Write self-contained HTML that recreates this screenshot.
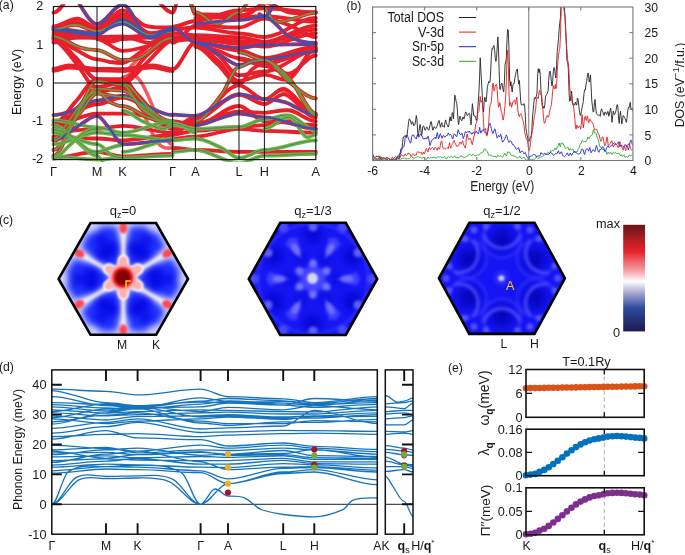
<!DOCTYPE html>
<html><head><meta charset="utf-8"><style>
html,body{margin:0;padding:0;background:#fff;}
svg{display:block;will-change:transform;}
text{font-family:"Liberation Sans",sans-serif;fill:#1a1a1a;}
</style></head><body>
<svg width="685" height="555" viewBox="0 0 685 555">
<rect width="685" height="555" fill="#fff"/>
<clipPath id="clipA"><rect x="51.199999999999996" y="4.3" width="266.8" height="157.5"/></clipPath>
<g clip-path="url(#clipA)" fill="none" stroke-linecap="round">
<path d="M122.6,79.2C134.3,79.2 145.9,126.2 157.6,142.3C162.6,149.2 167.6,148.0 172.6,148.0" stroke="#f03038" stroke-width="3.6" stroke-dasharray="1.6,0.9" opacity="0.8"/>
<path d="M132.6,75.3C144.3,75.3 155.9,120.3 167.6,140.4C169.3,143.2 170.9,144.2 172.6,144.2" stroke="#f03038" stroke-width="3.6" stroke-dasharray="1.6,0.9" opacity="0.8"/>
<path d="M122.6,71.5C128.4,71.5 134.3,62.0 140.1,56.2C145.9,50.5 151.8,41.9 157.6,37.1C162.6,33.0 167.6,29.5 172.6,29.5" stroke="#f03038" stroke-width="3.6" stroke-dasharray="1.6,0.9" opacity="0.8"/>
<path d="M122.6,77.3C129.3,77.3 135.9,66.5 142.6,60.0C148.4,54.4 154.3,46.1 160.1,40.9C164.3,37.2 168.4,33.3 172.6,33.3" stroke="#f03038" stroke-width="3.6" stroke-dasharray="1.6,0.9" opacity="0.8"/>
<path d="M279.8,90.7C291.8,90.7 303.8,115.1 315.8,115.1" stroke="#f03038" stroke-width="3.6" stroke-dasharray="1.6,0.9" opacity="0.8"/>
<path d="M290.1,75.3C298.7,75.3 307.2,48.6 315.8,48.6" stroke="#f03038" stroke-width="3.6" stroke-dasharray="1.6,0.9" opacity="0.8"/>
<path d="M53.4,12.6C62.1,12.6 70.8,-12.6 79.6,-12.6" stroke="#f01c26" stroke-width="3.8"/>
<path d="M142.6,-12.6C152.6,-12.6 162.6,12.6 172.6,12.6C175.6,12.6 178.7,-12.6 181.7,-12.6" stroke="#f01c26" stroke-width="3.8"/>
<path d="M66.5,-8.8C76.7,-8.8 86.8,24.1 97.0,24.1C105.5,24.1 114.1,4.6 122.6,4.6C130.9,4.6 139.3,33.1 147.6,37.1C155.9,41.1 164.3,28.7 172.6,28.7" stroke="#f01c26" stroke-width="3.8"/>
<path d="M53.4,28.7C67.9,28.7 82.5,33.3 97.0,33.3C105.5,33.3 114.1,19.5 122.6,19.5C130.9,19.5 139.3,33.8 147.6,35.2C155.9,36.6 164.3,27.9 172.6,27.9" stroke="#f01c26" stroke-width="3.8"/>
<path d="M53.4,26.4C61.4,26.4 69.4,18.5 77.4,18.7C83.9,19.0 90.5,27.9 97.0,27.9C105.5,27.9 114.1,10.3 122.6,10.3C130.1,10.3 137.6,23.1 145.1,25.6C154.3,28.7 163.4,27.2 172.6,27.2" stroke="#f01c26" stroke-width="3.8"/>
<path d="M53.4,27.5C60.7,27.5 67.9,21.5 75.2,21.8C82.5,22.1 89.7,29.5 97.0,29.5C105.5,29.5 114.1,14.1 122.6,14.1C130.9,14.1 139.3,30.0 147.6,32.5C155.9,35.1 164.3,29.5 172.6,29.5" stroke="#f01c26" stroke-width="3.8"/>
<path d="M53.4,29.5C60.7,29.5 67.9,24.6 75.2,24.9C82.5,25.1 89.7,31.0 97.0,31.0C105.5,31.0 114.1,21.8 122.6,21.8C130.9,21.8 139.3,33.2 147.6,34.8C155.9,36.4 164.3,31.4 172.6,31.4" stroke="#f01c26" stroke-width="3.8"/>
<path d="M53.4,30.2C67.9,30.2 82.5,34.8 97.0,34.8C101.3,34.8 105.5,29.4 109.8,27.5C114.1,25.7 118.3,23.7 122.6,23.7C130.9,23.7 139.3,35.3 147.6,36.3C155.9,37.4 164.3,30.2 172.6,30.2" stroke="#f01c26" stroke-width="3.8"/>
<path d="M53.4,33.3C67.9,33.3 82.5,36.3 97.0,36.3C101.3,36.3 105.5,40.0 109.8,40.2C114.1,40.3 118.3,37.1 122.6,37.1C139.3,37.1 155.9,33.3 172.6,33.3" stroke="#f01c26" stroke-width="3.8"/>
<path d="M53.4,35.6C67.9,35.6 82.5,37.9 97.0,37.9C101.3,37.9 105.5,41.5 109.8,41.7C114.1,41.9 118.3,39.0 122.6,39.0C139.3,39.0 155.9,36.3 172.6,36.3" stroke="#f01c26" stroke-width="3.8"/>
<path d="M53.4,38.6C67.9,38.6 82.5,37.1 97.0,37.1C105.5,37.1 114.1,36.3 122.6,36.3C130.9,36.3 139.3,42.2 147.6,42.8C155.9,43.5 164.3,40.2 172.6,40.2" stroke="#f01c26" stroke-width="3.8"/>
<path d="M53.4,42.5C67.9,42.5 82.5,31.0 97.0,31.0C101.3,31.0 105.5,23.3 109.8,21.0C114.1,18.7 118.3,17.2 122.6,17.2C130.9,17.2 139.3,29.2 147.6,33.3C155.9,37.4 164.3,41.7 172.6,41.7" stroke="#f01c26" stroke-width="3.8"/>
<path d="M53.4,36.3C62.1,36.3 70.8,44.7 79.6,47.4C85.4,49.3 91.2,50.1 97.0,50.1C105.5,50.1 114.1,60.0 122.6,60.0C128.4,60.0 134.3,60.5 140.1,57.8C147.6,54.2 155.1,45.5 162.6,40.9C165.9,38.9 169.3,37.9 172.6,37.9" stroke="#f01c26" stroke-width="3.8"/>
<path d="M53.4,37.9C60.7,37.9 67.9,45.8 75.2,49.3C82.5,52.9 89.7,59.3 97.0,59.3C101.3,59.3 105.5,61.3 109.8,62.0C114.1,62.6 118.3,63.1 122.6,63.1C127.6,63.1 132.6,57.7 137.6,54.3C142.6,50.9 147.6,45.8 152.6,42.8C159.3,38.8 165.9,33.3 172.6,33.3" stroke="#f01c26" stroke-width="3.8"/>
<path d="M53.4,39.0C60.7,39.0 67.9,50.3 75.2,57.0C82.5,63.7 89.7,79.2 97.0,79.2C105.5,79.2 114.1,81.1 122.6,81.1C130.1,81.1 137.6,64.2 145.1,57.0C150.4,51.9 155.8,47.7 161.1,44.0C164.9,41.3 168.8,37.9 172.6,37.9" stroke="#f01c26" stroke-width="3.8"/>
<path d="M53.4,40.9C60.7,40.9 67.9,53.6 75.2,62.0C80.3,67.8 85.4,78.0 90.5,83.8C92.6,86.3 94.8,86.8 97.0,86.8C105.5,86.8 114.1,83.0 122.6,83.0C130.9,83.0 139.3,69.5 147.6,62.0C152.6,57.4 157.6,51.0 162.6,46.7C165.9,43.8 169.3,40.2 172.6,40.2" stroke="#f01c26" stroke-width="3.8"/>
<path d="M97.0,39.0C105.5,39.0 114.1,50.9 122.6,50.9C132.6,50.9 142.6,47.1 152.6,44.8C159.3,43.2 165.9,39.0 172.6,39.0" stroke="#f01c26" stroke-width="3.8"/>
<path d="M53.4,68.8C58.5,68.8 63.6,65.4 68.7,65.4C78.1,65.4 87.6,68.8 97.0,68.8C105.5,68.8 114.1,69.2 122.6,69.2C132.6,69.2 142.6,65.4 152.6,65.4C159.3,65.4 165.9,69.2 172.6,69.2" stroke="#f01c26" stroke-width="3.8"/>
<path d="M53.4,70.8C58.5,70.8 63.6,67.7 68.7,67.7C78.1,67.6 87.6,70.4 97.0,70.4C105.5,70.4 114.1,70.8 122.6,70.8C132.6,70.8 142.6,67.2 152.6,67.3C159.3,67.4 165.9,71.1 172.6,71.1" stroke="#f01c26" stroke-width="3.8"/>
<path d="M53.4,115.1C59.2,115.1 65.0,113.3 70.8,111.3C75.9,109.6 81.0,106.1 86.1,104.0C89.7,102.5 93.4,100.6 97.0,100.6C105.5,100.6 114.1,95.6 122.6,95.6C129.3,95.6 135.9,101.4 142.6,104.0C152.6,107.9 162.6,115.1 172.6,115.1" stroke="#f01c26" stroke-width="3.8"/>
<path d="M53.4,140.4C62.1,140.4 70.8,130.0 79.6,125.1C85.4,121.8 91.2,115.9 97.0,115.9C101.3,115.9 105.5,124.2 109.8,128.9C114.1,133.6 118.3,144.2 122.6,144.2C139.3,144.2 155.9,140.4 172.6,140.4" stroke="#f01c26" stroke-width="3.8"/>
<path d="M53.4,124.3C60.7,124.3 67.9,109.6 75.2,102.1C82.5,94.6 89.7,79.2 97.0,79.2C105.5,79.2 114.1,79.2 122.6,79.2C127.6,79.2 132.6,89.7 137.6,94.5C149.3,105.7 160.9,127.4 172.6,127.4" stroke="#f01c26" stroke-width="3.8"/>
<path d="M53.4,155.7C60.7,155.7 67.9,130.9 75.2,117.4C81.0,106.7 86.8,92.7 92.6,83.0C94.1,80.6 95.5,81.1 97.0,81.1C105.5,81.1 114.1,84.9 122.6,84.9C129.3,84.9 135.9,104.7 142.6,109.8C152.6,117.4 162.6,123.2 172.6,123.2" stroke="#f01c26" stroke-width="3.8"/>
<path d="M53.4,128.9C62.1,128.9 70.8,113.2 79.6,106.0C85.4,101.1 91.2,92.6 97.0,92.6C105.5,92.6 114.1,86.8 122.6,86.8C130.9,86.8 139.3,99.7 147.6,106.7C155.9,113.7 164.3,128.9 172.6,128.9" stroke="#f01c26" stroke-width="3.8"/>
<path d="M53.4,140.4C62.1,140.4 70.8,122.9 79.6,113.6C85.4,107.4 91.2,93.7 97.0,93.7C105.5,93.7 114.1,96.8 122.6,96.8C139.3,96.8 155.9,121.2 172.6,121.2" stroke="#f01c26" stroke-width="3.8"/>
<path d="M53.4,121.2C67.9,121.2 82.5,104.4 97.0,104.4C105.5,104.4 114.1,97.5 122.6,97.5C139.3,97.5 155.9,122.0 172.6,122.0" stroke="#f01c26" stroke-width="3.8"/>
<path d="M53.4,125.1C67.9,125.1 82.5,113.6 97.0,113.6C105.5,113.6 114.1,113.6 122.6,113.6C130.9,113.6 139.3,114.4 147.6,116.7C155.9,119.0 164.3,127.4 172.6,127.4" stroke="#f01c26" stroke-width="3.8"/>
<path d="M53.4,132.0C67.9,132.0 82.5,128.9 97.0,128.9C105.5,128.9 114.1,125.8 122.6,125.8C139.3,125.8 155.9,132.7 172.6,132.7" stroke="#f01c26" stroke-width="3.8"/>
<path d="M53.4,136.6C67.9,136.6 82.5,138.5 97.0,138.5C105.5,138.5 114.1,140.4 122.6,140.4C139.3,140.4 155.9,135.0 172.6,135.0" stroke="#f01c26" stroke-width="3.8"/>
<path d="M53.4,157.6C67.9,157.6 82.5,151.9 97.0,151.9C105.5,151.9 114.1,156.4 122.6,156.4C139.3,156.4 155.9,153.8 172.6,153.8" stroke="#f01c26" stroke-width="3.8"/>
<path d="M122.6,83.0C130.9,83.0 139.3,100.0 147.6,106.7C155.9,113.4 164.3,123.2 172.6,123.2" stroke="#f01c26" stroke-width="3.8"/>
<path d="M53.4,138.5C58.5,138.5 63.6,127.6 68.7,121.2C73.7,114.9 78.8,105.6 83.9,100.2C88.3,95.6 92.6,91.4 97.0,91.4C101.3,91.4 105.5,99.7 109.8,102.1C114.1,104.5 118.3,106.0 122.6,106.0C130.9,106.0 139.3,114.6 147.6,117.4C155.9,120.3 164.3,123.2 172.6,123.2" stroke="#f01c26" stroke-width="3.8"/>
<path d="M53.4,149.9C58.5,149.9 63.6,140.5 68.7,132.7C72.3,127.1 75.9,116.2 79.6,109.8C83.9,102.1 88.3,95.9 92.6,90.7C94.1,88.9 95.5,88.7 97.0,88.7C105.5,88.7 114.1,90.7 122.6,90.7C130.9,90.7 139.3,106.0 147.6,111.7C155.9,117.4 164.3,125.1 172.6,125.1" stroke="#f01c26" stroke-width="3.8"/>
<path d="M186.3,-8.8C189.3,-8.8 192.4,14.1 195.4,14.1C209.9,14.1 224.5,15.3 239.0,15.3C243.2,15.3 247.5,14.3 251.7,12.2C255.9,10.1 260.2,2.7 264.4,2.7C273.0,2.7 281.5,11.0 290.1,12.6C298.7,14.3 307.2,12.6 315.8,12.6" stroke="#f01c26" stroke-width="3.8"/>
<path d="M186.3,-5.0C189.3,-5.0 192.4,12.2 195.4,12.2C202.7,12.2 209.9,24.1 217.2,24.1C224.5,24.1 231.7,12.2 239.0,12.2C243.2,12.2 247.5,-1.2 251.7,-1.2" stroke="#f01c26" stroke-width="3.8"/>
<path d="M259.3,2.7C264.4,2.7 269.6,18.9 274.7,21.0C281.5,24.0 288.4,19.4 295.2,18.0C302.1,16.6 308.9,12.6 315.8,12.6" stroke="#f01c26" stroke-width="3.8"/>
<path d="M172.6,27.5C180.2,27.5 187.8,42.5 195.4,42.5C209.9,42.5 224.5,47.8 239.0,47.8C247.5,47.8 255.9,44.8 264.4,44.8C281.5,44.8 298.7,44.0 315.8,44.0" stroke="#f01c26" stroke-width="3.8"/>
<path d="M195.4,42.5C204.1,42.5 212.8,51.7 221.6,56.2C227.4,59.2 233.2,65.0 239.0,65.0C247.5,65.0 255.9,59.3 264.4,59.3C281.5,59.3 298.7,51.6 315.8,51.6" stroke="#f01c26" stroke-width="3.8"/>
<path d="M195.4,23.7C209.9,23.7 224.5,19.9 239.0,19.9C247.5,19.9 255.9,16.8 264.4,16.8C269.5,16.8 274.7,-1.2 279.8,-1.2" stroke="#f01c26" stroke-width="3.8"/>
<path d="M259.3,14.1C261.0,14.1 262.7,16.8 264.4,16.8C273.0,16.8 281.5,32.8 290.1,37.1C298.7,41.4 307.2,42.8 315.8,42.8" stroke="#f01c26" stroke-width="3.8"/>
<path d="M172.6,26.8C180.2,26.8 187.8,21.0 195.4,21.0C209.9,21.0 224.5,10.3 239.0,10.3C247.5,10.3 255.9,8.4 264.4,8.4C281.5,8.4 298.7,12.2 315.8,12.2" stroke="#f01c26" stroke-width="3.8"/>
<path d="M172.6,29.5C180.2,29.5 187.8,27.5 195.4,27.5C209.9,27.5 224.5,33.3 239.0,33.3C247.5,33.3 255.9,37.1 264.4,37.1C281.5,37.1 298.7,18.0 315.8,18.0" stroke="#f01c26" stroke-width="3.8"/>
<path d="M172.6,33.3C180.2,33.3 187.8,35.2 195.4,35.2C209.9,35.2 224.5,37.1 239.0,37.1C247.5,37.1 255.9,41.7 264.4,41.7C281.5,41.7 298.7,25.6 315.8,25.6" stroke="#f01c26" stroke-width="3.8"/>
<path d="M172.6,37.1C180.2,37.1 187.8,37.1 195.4,37.1C209.9,37.1 224.5,40.9 239.0,40.9C247.5,40.9 255.9,42.8 264.4,42.8C281.5,42.8 298.7,29.5 315.8,29.5" stroke="#f01c26" stroke-width="3.8"/>
<path d="M172.6,40.9C180.2,40.9 187.8,39.0 195.4,39.0C209.9,39.0 224.5,44.0 239.0,44.0C247.5,44.0 255.9,46.7 264.4,46.7C281.5,46.7 298.7,33.3 315.8,33.3" stroke="#f01c26" stroke-width="3.8"/>
<path d="M172.6,42.8C180.2,42.8 187.8,25.6 195.4,25.6C209.9,25.6 224.5,27.5 239.0,27.5C247.5,27.5 255.9,18.7 264.4,18.7C273.0,18.7 281.5,22.6 290.1,25.6C298.7,28.7 307.2,37.1 315.8,37.1" stroke="#f01c26" stroke-width="3.8"/>
<path d="M195.4,18.0C209.9,18.0 224.5,17.2 239.0,17.2C247.5,17.2 255.9,16.1 264.4,16.1C281.5,16.1 298.7,21.8 315.8,21.8" stroke="#f01c26" stroke-width="3.8"/>
<path d="M172.6,69.2C180.2,69.2 187.8,42.5 195.4,42.5C209.9,42.5 224.5,50.5 239.0,50.5C247.5,50.5 255.9,58.1 264.4,58.1C281.5,58.1 298.7,46.7 315.8,46.7" stroke="#f01c26" stroke-width="3.8"/>
<path d="M195.4,44.8C202.7,44.8 209.9,54.0 217.2,60.0C224.5,66.1 231.7,81.1 239.0,81.1C247.5,81.1 255.9,74.6 264.4,74.6C273.0,74.6 281.5,82.7 290.1,78.4C298.7,74.1 307.2,48.6 315.8,48.6" stroke="#f01c26" stroke-width="3.8"/>
<path d="M195.4,46.7C202.7,46.7 209.9,57.6 217.2,63.9C224.5,70.2 231.7,84.5 239.0,84.5C243.2,84.5 247.5,73.1 251.7,69.6C255.9,66.2 260.2,63.9 264.4,63.9C281.5,63.9 298.7,50.5 315.8,50.5" stroke="#f01c26" stroke-width="3.8"/>
<path d="M195.4,121.2C204.1,121.2 212.8,105.3 221.6,94.5C227.4,87.2 233.2,66.9 239.0,66.9C242.8,66.9 246.6,63.0 250.4,62.0C255.1,60.7 259.7,60.0 264.4,60.0C274.7,60.0 285.0,76.1 295.2,86.8C302.1,94.0 308.9,113.6 315.8,113.6" stroke="#f01c26" stroke-width="3.8"/>
<path d="M239.0,52.4C247.5,52.4 255.9,60.0 264.4,60.0C273.0,60.0 281.5,76.6 290.1,83.0C298.7,89.4 307.2,98.3 315.8,98.3" stroke="#f01c26" stroke-width="3.8"/>
<path d="M239.0,59.3C247.5,59.3 255.9,65.8 264.4,65.8C273.0,65.8 281.5,75.2 290.1,73.4C298.7,71.7 307.2,55.5 315.8,55.5" stroke="#f01c26" stroke-width="3.8"/>
<path d="M195.4,44.8C202.7,44.8 209.9,48.3 217.2,50.5C224.5,52.7 231.7,58.1 239.0,58.1C247.5,58.1 255.9,63.9 264.4,63.9C281.5,63.9 298.7,48.6 315.8,48.6" stroke="#f01c26" stroke-width="3.8"/>
<path d="M195.4,45.5C202.7,45.5 209.9,49.3 217.2,54.3C224.5,59.3 231.7,75.3 239.0,75.3C247.5,75.3 255.9,71.5 264.4,71.5C281.5,71.5 298.7,50.5 315.8,50.5" stroke="#f01c26" stroke-width="3.8"/>
<path d="M172.6,114.7C180.2,114.7 187.8,115.9 195.4,115.9C204.1,115.9 212.8,106.4 221.6,102.1C227.4,99.3 233.2,94.5 239.0,94.5C247.5,94.5 255.9,99.1 264.4,99.1C271.3,99.1 278.1,100.0 285.0,102.1C295.2,105.3 305.5,115.1 315.8,115.1" stroke="#f01c26" stroke-width="3.8"/>
<path d="M172.6,127.4C180.2,127.4 187.8,117.4 195.4,117.4C209.9,117.4 224.5,85.3 239.0,85.3C247.5,85.3 255.9,99.4 264.4,99.4C271.3,99.4 278.1,87.0 285.0,89.1C295.2,92.3 305.5,115.1 315.8,115.1" stroke="#f01c26" stroke-width="3.8"/>
<path d="M172.6,128.9C180.2,128.9 187.8,119.3 195.4,119.3C209.9,119.3 224.5,94.5 239.0,94.5C247.5,94.5 255.9,104.0 264.4,104.0C271.3,104.0 278.1,92.7 285.0,94.5C295.2,97.2 305.5,117.4 315.8,117.4" stroke="#f01c26" stroke-width="3.8"/>
<path d="M195.4,125.1C209.9,125.1 224.5,113.6 239.0,113.6C247.5,113.6 255.9,117.4 264.4,117.4C281.5,117.4 298.7,128.9 315.8,128.9" stroke="#f01c26" stroke-width="3.8"/>
<path d="M172.6,132.7C180.2,132.7 187.8,123.2 195.4,123.2C209.9,123.2 224.5,111.7 239.0,111.7C247.5,111.7 255.9,112.8 264.4,112.8C273.0,112.8 281.5,109.1 290.1,110.5C298.7,111.9 307.2,121.2 315.8,121.2" stroke="#f01c26" stroke-width="3.8"/>
<path d="M172.6,121.2C180.2,121.2 187.8,125.1 195.4,125.1C209.9,125.1 224.5,106.0 239.0,106.0C247.5,106.0 255.9,121.2 264.4,121.2C281.5,121.2 298.7,125.1 315.8,125.1" stroke="#f01c26" stroke-width="3.8"/>
<path d="M172.6,134.6C180.2,134.6 187.8,130.8 195.4,130.8C209.9,130.8 224.5,127.0 239.0,127.0C247.5,127.0 255.9,125.1 264.4,125.1C273.0,125.1 281.5,120.6 290.1,121.2C298.7,121.9 307.2,128.9 315.8,128.9" stroke="#f01c26" stroke-width="3.8"/>
<path d="M172.6,138.5C180.2,138.5 187.8,136.6 195.4,136.6C209.9,136.6 224.5,128.9 239.0,128.9C247.5,128.9 255.9,130.8 264.4,130.8C281.5,130.8 298.7,132.7 315.8,132.7" stroke="#f01c26" stroke-width="3.8"/>
<path d="M172.6,148.0C180.2,148.0 187.8,149.9 195.4,149.9C209.9,149.9 224.5,151.9 239.0,151.9C247.5,151.9 255.9,151.9 264.4,151.9C281.5,151.9 298.7,151.9 315.8,151.9" stroke="#f01c26" stroke-width="3.8"/>
<path d="M274.7,67.7C279.8,67.7 285.0,73.2 290.1,79.2C298.7,89.1 307.2,115.1 315.8,115.1" stroke="#f01c26" stroke-width="3.8"/>
<path d="M53.4,120.1C67.9,120.1 82.5,127.4 97.0,127.4C105.5,127.4 114.1,132.7 122.6,132.7C139.3,132.7 155.9,121.2 172.6,121.2" stroke="#6cb84a" stroke-width="3.8"/>
<path d="M53.4,120.1C67.9,120.1 82.5,127.4 97.0,127.4C105.5,127.4 114.1,132.7 122.6,132.7C139.3,132.7 155.9,121.2 172.6,121.2" stroke="#55705a" stroke-width="0.9" opacity="0.8"/>
<path d="M53.4,144.2C67.9,144.2 82.5,132.7 97.0,132.7C105.5,132.7 114.1,135.0 122.6,135.0C139.3,135.0 155.9,140.4 172.6,140.4" stroke="#6cb84a" stroke-width="3.8"/>
<path d="M53.4,144.2C67.9,144.2 82.5,132.7 97.0,132.7C105.5,132.7 114.1,135.0 122.6,135.0C139.3,135.0 155.9,140.4 172.6,140.4" stroke="#55705a" stroke-width="0.9" opacity="0.8"/>
<path d="M53.4,156.4C67.9,156.4 82.5,159.5 97.0,159.5C105.5,159.5 114.1,157.6 122.6,157.6C139.3,157.6 155.9,155.7 172.6,155.7" stroke="#6cb84a" stroke-width="3.8"/>
<path d="M53.4,156.4C67.9,156.4 82.5,159.5 97.0,159.5C105.5,159.5 114.1,157.6 122.6,157.6C139.3,157.6 155.9,155.7 172.6,155.7" stroke="#55705a" stroke-width="0.9" opacity="0.8"/>
<path d="M53.4,132.7C60.7,132.7 67.9,136.6 75.2,138.5C82.5,140.4 89.7,144.2 97.0,144.2C102.1,144.2 107.2,153.0 112.4,155.7C115.8,157.5 119.2,157.6 122.6,157.6" stroke="#6cb84a" stroke-width="3.8"/>
<path d="M53.4,132.7C60.7,132.7 67.9,136.6 75.2,138.5C82.5,140.4 89.7,144.2 97.0,144.2C102.1,144.2 107.2,153.0 112.4,155.7C115.8,157.5 119.2,157.6 122.6,157.6" stroke="#55705a" stroke-width="0.9" opacity="0.8"/>
<path d="M122.6,151.9C132.6,151.9 142.6,146.9 152.6,144.2C159.3,142.4 165.9,138.5 172.6,138.5" stroke="#6cb84a" stroke-width="3.8"/>
<path d="M122.6,151.9C132.6,151.9 142.6,146.9 152.6,144.2C159.3,142.4 165.9,138.5 172.6,138.5" stroke="#55705a" stroke-width="0.9" opacity="0.8"/>
<path d="M122.6,110.5C129.3,110.5 135.9,118.2 142.6,121.2C149.3,124.3 155.9,128.1 162.6,128.9C165.9,129.3 169.3,125.1 172.6,125.1C176.4,125.1 180.2,125.7 184.0,127.0C187.8,128.3 191.6,132.7 195.4,132.7" stroke="#6cb84a" stroke-width="3.8"/>
<path d="M122.6,110.5C129.3,110.5 135.9,118.2 142.6,121.2C149.3,124.3 155.9,128.1 162.6,128.9C165.9,129.3 169.3,125.1 172.6,125.1C176.4,125.1 180.2,125.7 184.0,127.0C187.8,128.3 191.6,132.7 195.4,132.7" stroke="#55705a" stroke-width="0.9" opacity="0.8"/>
<path d="M53.4,125.1C60.7,125.1 67.9,135.3 75.2,140.4C82.5,145.5 89.7,155.7 97.0,155.7C99.6,155.7 102.1,163.3 104.7,163.3" stroke="#6cb84a" stroke-width="3.8"/>
<path d="M53.4,125.1C60.7,125.1 67.9,135.3 75.2,140.4C82.5,145.5 89.7,155.7 97.0,155.7C99.6,155.7 102.1,163.3 104.7,163.3" stroke="#55705a" stroke-width="0.9" opacity="0.8"/>
<path d="M53.4,129.7C59.2,129.7 65.0,132.4 70.8,135.8C76.7,139.2 82.5,146.4 88.3,149.9C91.2,151.7 94.1,151.9 97.0,151.9C101.3,151.9 105.5,149.2 109.8,148.0C114.1,146.9 118.3,145.0 122.6,145.0" stroke="#6cb84a" stroke-width="3.8"/>
<path d="M53.4,129.7C59.2,129.7 65.0,132.4 70.8,135.8C76.7,139.2 82.5,146.4 88.3,149.9C91.2,151.7 94.1,151.9 97.0,151.9C101.3,151.9 105.5,149.2 109.8,148.0C114.1,146.9 118.3,145.0 122.6,145.0" stroke="#55705a" stroke-width="0.9" opacity="0.8"/>
<path d="M53.4,158.7C58.5,158.7 63.6,150.4 68.7,146.1C73.7,141.8 78.8,135.8 83.9,132.7C88.3,130.1 92.6,128.9 97.0,128.9" stroke="#6cb84a" stroke-width="3.8"/>
<path d="M53.4,158.7C58.5,158.7 63.6,150.4 68.7,146.1C73.7,141.8 78.8,135.8 83.9,132.7C88.3,130.1 92.6,128.9 97.0,128.9" stroke="#55705a" stroke-width="0.9" opacity="0.8"/>
<path d="M172.6,123.2C180.2,123.2 187.8,128.9 195.4,128.9C209.9,128.9 224.5,127.0 239.0,127.0C247.5,127.0 255.9,119.3 264.4,119.3C273.0,119.3 281.5,113.6 290.1,115.5C298.7,117.4 307.2,130.8 315.8,130.8" stroke="#6cb84a" stroke-width="3.8"/>
<path d="M172.6,123.2C180.2,123.2 187.8,128.9 195.4,128.9C209.9,128.9 224.5,127.0 239.0,127.0C247.5,127.0 255.9,119.3 264.4,119.3C273.0,119.3 281.5,113.6 290.1,115.5C298.7,117.4 307.2,130.8 315.8,130.8" stroke="#55705a" stroke-width="0.9" opacity="0.8"/>
<path d="M172.6,140.4C180.2,140.4 187.8,138.5 195.4,138.5C204.1,138.5 212.8,144.1 221.6,148.0C227.4,150.6 233.2,158.0 239.0,158.0C247.5,158.0 255.9,149.9 264.4,149.9C281.5,149.9 298.7,140.4 315.8,140.4" stroke="#6cb84a" stroke-width="3.8"/>
<path d="M172.6,140.4C180.2,140.4 187.8,138.5 195.4,138.5C204.1,138.5 212.8,144.1 221.6,148.0C227.4,150.6 233.2,158.0 239.0,158.0C247.5,158.0 255.9,149.9 264.4,149.9C281.5,149.9 298.7,140.4 315.8,140.4" stroke="#55705a" stroke-width="0.9" opacity="0.8"/>
<path d="M172.6,151.9C180.2,151.9 187.8,149.9 195.4,149.9C209.9,149.9 224.5,163.3 239.0,163.3C247.5,163.3 255.9,155.7 264.4,155.7C281.5,155.7 298.7,153.8 315.8,153.8" stroke="#6cb84a" stroke-width="3.8"/>
<path d="M172.6,151.9C180.2,151.9 187.8,149.9 195.4,149.9C209.9,149.9 224.5,163.3 239.0,163.3C247.5,163.3 255.9,155.7 264.4,155.7C281.5,155.7 298.7,153.8 315.8,153.8" stroke="#55705a" stroke-width="0.9" opacity="0.8"/>
<path d="M264.4,128.9C273.0,128.9 281.5,115.8 290.1,117.4C295.2,118.4 300.4,133.1 305.5,136.6C308.9,138.8 312.4,134.6 315.8,134.6" stroke="#6cb84a" stroke-width="3.8"/>
<path d="M264.4,128.9C273.0,128.9 281.5,115.8 290.1,117.4C295.2,118.4 300.4,133.1 305.5,136.6C308.9,138.8 312.4,134.6 315.8,134.6" stroke="#55705a" stroke-width="0.9" opacity="0.8"/>
<path d="M53.4,12.6C62.1,12.6 70.8,-12.6 79.6,-12.6" stroke="#7a5a8a" stroke-width="0.7" stroke-dasharray="1,1.6" opacity="0.4"/>
<path d="M142.6,-12.6C152.6,-12.6 162.6,12.6 172.6,12.6C175.6,12.6 178.7,-12.6 181.7,-12.6" stroke="#7a5a8a" stroke-width="0.7" stroke-dasharray="1,1.6" opacity="0.4"/>
<path d="M53.4,26.4C61.4,26.4 69.4,18.5 77.4,18.7C83.9,19.0 90.5,27.9 97.0,27.9C105.5,27.9 114.1,10.3 122.6,10.3C130.1,10.3 137.6,23.1 145.1,25.6C154.3,28.7 163.4,27.2 172.6,27.2" stroke="#7a5a8a" stroke-width="0.7" stroke-dasharray="1,1.6" opacity="0.4"/>
<path d="M53.4,27.5C60.7,27.5 67.9,21.5 75.2,21.8C82.5,22.1 89.7,29.5 97.0,29.5C105.5,29.5 114.1,14.1 122.6,14.1C130.9,14.1 139.3,30.0 147.6,32.5C155.9,35.1 164.3,29.5 172.6,29.5" stroke="#7a5a8a" stroke-width="0.7" stroke-dasharray="1,1.6" opacity="0.4"/>
<path d="M53.4,33.3C67.9,33.3 82.5,36.3 97.0,36.3C101.3,36.3 105.5,40.0 109.8,40.2C114.1,40.3 118.3,37.1 122.6,37.1C139.3,37.1 155.9,33.3 172.6,33.3" stroke="#7a5a8a" stroke-width="0.7" stroke-dasharray="1,1.6" opacity="0.4"/>
<path d="M53.4,35.6C67.9,35.6 82.5,37.9 97.0,37.9C101.3,37.9 105.5,41.5 109.8,41.7C114.1,41.9 118.3,39.0 122.6,39.0C139.3,39.0 155.9,36.3 172.6,36.3" stroke="#7a5a8a" stroke-width="0.7" stroke-dasharray="1,1.6" opacity="0.4"/>
<path d="M53.4,38.6C67.9,38.6 82.5,37.1 97.0,37.1C105.5,37.1 114.1,36.3 122.6,36.3C130.9,36.3 139.3,42.2 147.6,42.8C155.9,43.5 164.3,40.2 172.6,40.2" stroke="#7a5a8a" stroke-width="0.7" stroke-dasharray="1,1.6" opacity="0.4"/>
<path d="M53.4,42.5C67.9,42.5 82.5,31.0 97.0,31.0C101.3,31.0 105.5,23.3 109.8,21.0C114.1,18.7 118.3,17.2 122.6,17.2C130.9,17.2 139.3,29.2 147.6,33.3C155.9,37.4 164.3,41.7 172.6,41.7" stroke="#7a5a8a" stroke-width="0.7" stroke-dasharray="1,1.6" opacity="0.4"/>
<path d="M53.4,37.9C60.7,37.9 67.9,45.8 75.2,49.3C82.5,52.9 89.7,59.3 97.0,59.3C101.3,59.3 105.5,61.3 109.8,62.0C114.1,62.6 118.3,63.1 122.6,63.1C127.6,63.1 132.6,57.7 137.6,54.3C142.6,50.9 147.6,45.8 152.6,42.8C159.3,38.8 165.9,33.3 172.6,33.3" stroke="#7a5a8a" stroke-width="0.7" stroke-dasharray="1,1.6" opacity="0.4"/>
<path d="M53.4,39.0C60.7,39.0 67.9,50.3 75.2,57.0C82.5,63.7 89.7,79.2 97.0,79.2C105.5,79.2 114.1,81.1 122.6,81.1C130.1,81.1 137.6,64.2 145.1,57.0C150.4,51.9 155.8,47.7 161.1,44.0C164.9,41.3 168.8,37.9 172.6,37.9" stroke="#7a5a8a" stroke-width="0.7" stroke-dasharray="1,1.6" opacity="0.4"/>
<path d="M53.4,40.9C60.7,40.9 67.9,53.6 75.2,62.0C80.3,67.8 85.4,78.0 90.5,83.8C92.6,86.3 94.8,86.8 97.0,86.8C105.5,86.8 114.1,83.0 122.6,83.0C130.9,83.0 139.3,69.5 147.6,62.0C152.6,57.4 157.6,51.0 162.6,46.7C165.9,43.8 169.3,40.2 172.6,40.2" stroke="#7a5a8a" stroke-width="0.7" stroke-dasharray="1,1.6" opacity="0.4"/>
<path d="M97.0,39.0C105.5,39.0 114.1,50.9 122.6,50.9C132.6,50.9 142.6,47.1 152.6,44.8C159.3,43.2 165.9,39.0 172.6,39.0" stroke="#7a5a8a" stroke-width="0.7" stroke-dasharray="1,1.6" opacity="0.4"/>
<path d="M53.4,68.8C58.5,68.8 63.6,65.4 68.7,65.4C78.1,65.4 87.6,68.8 97.0,68.8C105.5,68.8 114.1,69.2 122.6,69.2C132.6,69.2 142.6,65.4 152.6,65.4C159.3,65.4 165.9,69.2 172.6,69.2" stroke="#7a5a8a" stroke-width="0.7" stroke-dasharray="1,1.6" opacity="0.4"/>
<path d="M53.4,70.8C58.5,70.8 63.6,67.7 68.7,67.7C78.1,67.6 87.6,70.4 97.0,70.4C105.5,70.4 114.1,70.8 122.6,70.8C132.6,70.8 142.6,67.2 152.6,67.3C159.3,67.4 165.9,71.1 172.6,71.1" stroke="#7a5a8a" stroke-width="0.7" stroke-dasharray="1,1.6" opacity="0.4"/>
<path d="M53.4,124.3C60.7,124.3 67.9,109.6 75.2,102.1C82.5,94.6 89.7,79.2 97.0,79.2C105.5,79.2 114.1,79.2 122.6,79.2C127.6,79.2 132.6,89.7 137.6,94.5C149.3,105.7 160.9,127.4 172.6,127.4" stroke="#7a5a8a" stroke-width="0.7" stroke-dasharray="1,1.6" opacity="0.4"/>
<path d="M53.4,128.9C62.1,128.9 70.8,113.2 79.6,106.0C85.4,101.1 91.2,92.6 97.0,92.6C105.5,92.6 114.1,86.8 122.6,86.8C130.9,86.8 139.3,99.7 147.6,106.7C155.9,113.7 164.3,128.9 172.6,128.9" stroke="#7a5a8a" stroke-width="0.7" stroke-dasharray="1,1.6" opacity="0.4"/>
<path d="M53.4,121.2C67.9,121.2 82.5,104.4 97.0,104.4C105.5,104.4 114.1,97.5 122.6,97.5C139.3,97.5 155.9,122.0 172.6,122.0" stroke="#7a5a8a" stroke-width="0.7" stroke-dasharray="1,1.6" opacity="0.4"/>
<path d="M53.4,125.1C67.9,125.1 82.5,113.6 97.0,113.6C105.5,113.6 114.1,113.6 122.6,113.6C130.9,113.6 139.3,114.4 147.6,116.7C155.9,119.0 164.3,127.4 172.6,127.4" stroke="#7a5a8a" stroke-width="0.7" stroke-dasharray="1,1.6" opacity="0.4"/>
<path d="M53.4,132.0C67.9,132.0 82.5,128.9 97.0,128.9C105.5,128.9 114.1,125.8 122.6,125.8C139.3,125.8 155.9,132.7 172.6,132.7" stroke="#7a5a8a" stroke-width="0.7" stroke-dasharray="1,1.6" opacity="0.4"/>
<path d="M53.4,136.6C67.9,136.6 82.5,138.5 97.0,138.5C105.5,138.5 114.1,140.4 122.6,140.4C139.3,140.4 155.9,135.0 172.6,135.0" stroke="#7a5a8a" stroke-width="0.7" stroke-dasharray="1,1.6" opacity="0.4"/>
<path d="M53.4,157.6C67.9,157.6 82.5,151.9 97.0,151.9C105.5,151.9 114.1,156.4 122.6,156.4C139.3,156.4 155.9,153.8 172.6,153.8" stroke="#7a5a8a" stroke-width="0.7" stroke-dasharray="1,1.6" opacity="0.4"/>
<path d="M186.3,-8.8C189.3,-8.8 192.4,14.1 195.4,14.1C209.9,14.1 224.5,15.3 239.0,15.3C243.2,15.3 247.5,14.3 251.7,12.2C255.9,10.1 260.2,2.7 264.4,2.7C273.0,2.7 281.5,11.0 290.1,12.6C298.7,14.3 307.2,12.6 315.8,12.6" stroke="#7a5a8a" stroke-width="0.7" stroke-dasharray="1,1.6" opacity="0.4"/>
<path d="M172.6,26.8C180.2,26.8 187.8,21.0 195.4,21.0C209.9,21.0 224.5,10.3 239.0,10.3C247.5,10.3 255.9,8.4 264.4,8.4C281.5,8.4 298.7,12.2 315.8,12.2" stroke="#7a5a8a" stroke-width="0.7" stroke-dasharray="1,1.6" opacity="0.4"/>
<path d="M172.6,29.5C180.2,29.5 187.8,27.5 195.4,27.5C209.9,27.5 224.5,33.3 239.0,33.3C247.5,33.3 255.9,37.1 264.4,37.1C281.5,37.1 298.7,18.0 315.8,18.0" stroke="#7a5a8a" stroke-width="0.7" stroke-dasharray="1,1.6" opacity="0.4"/>
<path d="M172.6,33.3C180.2,33.3 187.8,35.2 195.4,35.2C209.9,35.2 224.5,37.1 239.0,37.1C247.5,37.1 255.9,41.7 264.4,41.7C281.5,41.7 298.7,25.6 315.8,25.6" stroke="#7a5a8a" stroke-width="0.7" stroke-dasharray="1,1.6" opacity="0.4"/>
<path d="M172.6,37.1C180.2,37.1 187.8,37.1 195.4,37.1C209.9,37.1 224.5,40.9 239.0,40.9C247.5,40.9 255.9,42.8 264.4,42.8C281.5,42.8 298.7,29.5 315.8,29.5" stroke="#7a5a8a" stroke-width="0.7" stroke-dasharray="1,1.6" opacity="0.4"/>
<path d="M172.6,40.9C180.2,40.9 187.8,39.0 195.4,39.0C209.9,39.0 224.5,44.0 239.0,44.0C247.5,44.0 255.9,46.7 264.4,46.7C281.5,46.7 298.7,33.3 315.8,33.3" stroke="#7a5a8a" stroke-width="0.7" stroke-dasharray="1,1.6" opacity="0.4"/>
<path d="M172.6,42.8C180.2,42.8 187.8,25.6 195.4,25.6C209.9,25.6 224.5,27.5 239.0,27.5C247.5,27.5 255.9,18.7 264.4,18.7C273.0,18.7 281.5,22.6 290.1,25.6C298.7,28.7 307.2,37.1 315.8,37.1" stroke="#7a5a8a" stroke-width="0.7" stroke-dasharray="1,1.6" opacity="0.4"/>
<path d="M195.4,18.0C209.9,18.0 224.5,17.2 239.0,17.2C247.5,17.2 255.9,16.1 264.4,16.1C281.5,16.1 298.7,21.8 315.8,21.8" stroke="#7a5a8a" stroke-width="0.7" stroke-dasharray="1,1.6" opacity="0.4"/>
<path d="M172.6,69.2C180.2,69.2 187.8,42.5 195.4,42.5C209.9,42.5 224.5,50.5 239.0,50.5C247.5,50.5 255.9,58.1 264.4,58.1C281.5,58.1 298.7,46.7 315.8,46.7" stroke="#7a5a8a" stroke-width="0.7" stroke-dasharray="1,1.6" opacity="0.4"/>
<path d="M195.4,44.8C202.7,44.8 209.9,54.0 217.2,60.0C224.5,66.1 231.7,81.1 239.0,81.1C247.5,81.1 255.9,74.6 264.4,74.6C273.0,74.6 281.5,82.7 290.1,78.4C298.7,74.1 307.2,48.6 315.8,48.6" stroke="#7a5a8a" stroke-width="0.7" stroke-dasharray="1,1.6" opacity="0.4"/>
<path d="M195.4,46.7C202.7,46.7 209.9,57.6 217.2,63.9C224.5,70.2 231.7,84.5 239.0,84.5C243.2,84.5 247.5,73.1 251.7,69.6C255.9,66.2 260.2,63.9 264.4,63.9C281.5,63.9 298.7,50.5 315.8,50.5" stroke="#7a5a8a" stroke-width="0.7" stroke-dasharray="1,1.6" opacity="0.4"/>
<path d="M239.0,59.3C247.5,59.3 255.9,65.8 264.4,65.8C273.0,65.8 281.5,75.2 290.1,73.4C298.7,71.7 307.2,55.5 315.8,55.5" stroke="#7a5a8a" stroke-width="0.7" stroke-dasharray="1,1.6" opacity="0.4"/>
<path d="M195.4,44.8C202.7,44.8 209.9,48.3 217.2,50.5C224.5,52.7 231.7,58.1 239.0,58.1C247.5,58.1 255.9,63.9 264.4,63.9C281.5,63.9 298.7,48.6 315.8,48.6" stroke="#7a5a8a" stroke-width="0.7" stroke-dasharray="1,1.6" opacity="0.4"/>
<path d="M195.4,45.5C202.7,45.5 209.9,49.3 217.2,54.3C224.5,59.3 231.7,75.3 239.0,75.3C247.5,75.3 255.9,71.5 264.4,71.5C281.5,71.5 298.7,50.5 315.8,50.5" stroke="#7a5a8a" stroke-width="0.7" stroke-dasharray="1,1.6" opacity="0.4"/>
<path d="M172.6,127.4C180.2,127.4 187.8,117.4 195.4,117.4C209.9,117.4 224.5,85.3 239.0,85.3C247.5,85.3 255.9,99.4 264.4,99.4C271.3,99.4 278.1,87.0 285.0,89.1C295.2,92.3 305.5,115.1 315.8,115.1" stroke="#7a5a8a" stroke-width="0.7" stroke-dasharray="1,1.6" opacity="0.4"/>
<path d="M172.6,128.9C180.2,128.9 187.8,119.3 195.4,119.3C209.9,119.3 224.5,94.5 239.0,94.5C247.5,94.5 255.9,104.0 264.4,104.0C271.3,104.0 278.1,92.7 285.0,94.5C295.2,97.2 305.5,117.4 315.8,117.4" stroke="#7a5a8a" stroke-width="0.7" stroke-dasharray="1,1.6" opacity="0.4"/>
<path d="M172.6,132.7C180.2,132.7 187.8,123.2 195.4,123.2C209.9,123.2 224.5,111.7 239.0,111.7C247.5,111.7 255.9,112.8 264.4,112.8C273.0,112.8 281.5,109.1 290.1,110.5C298.7,111.9 307.2,121.2 315.8,121.2" stroke="#7a5a8a" stroke-width="0.7" stroke-dasharray="1,1.6" opacity="0.4"/>
<path d="M172.6,121.2C180.2,121.2 187.8,125.1 195.4,125.1C209.9,125.1 224.5,106.0 239.0,106.0C247.5,106.0 255.9,121.2 264.4,121.2C281.5,121.2 298.7,125.1 315.8,125.1" stroke="#7a5a8a" stroke-width="0.7" stroke-dasharray="1,1.6" opacity="0.4"/>
<path d="M172.6,134.6C180.2,134.6 187.8,130.8 195.4,130.8C209.9,130.8 224.5,127.0 239.0,127.0C247.5,127.0 255.9,125.1 264.4,125.1C273.0,125.1 281.5,120.6 290.1,121.2C298.7,121.9 307.2,128.9 315.8,128.9" stroke="#7a5a8a" stroke-width="0.7" stroke-dasharray="1,1.6" opacity="0.4"/>
<path d="M172.6,138.5C180.2,138.5 187.8,136.6 195.4,136.6C209.9,136.6 224.5,128.9 239.0,128.9C247.5,128.9 255.9,130.8 264.4,130.8C281.5,130.8 298.7,132.7 315.8,132.7" stroke="#7a5a8a" stroke-width="0.7" stroke-dasharray="1,1.6" opacity="0.4"/>
<path d="M172.6,148.0C180.2,148.0 187.8,149.9 195.4,149.9C209.9,149.9 224.5,151.9 239.0,151.9C247.5,151.9 255.9,151.9 264.4,151.9C281.5,151.9 298.7,151.9 315.8,151.9" stroke="#7a5a8a" stroke-width="0.7" stroke-dasharray="1,1.6" opacity="0.4"/>
<path d="M66.5,-8.8C76.7,-8.8 86.8,24.1 97.0,24.1C105.5,24.1 114.1,4.6 122.6,4.6C130.9,4.6 139.3,33.1 147.6,37.1C155.9,41.1 164.3,28.7 172.6,28.7" stroke="#3c52b6" stroke-width="2.4"/>
<path d="M53.4,28.7C67.9,28.7 82.5,33.3 97.0,33.3C105.5,33.3 114.1,19.5 122.6,19.5C130.9,19.5 139.3,33.8 147.6,35.2C155.9,36.6 164.3,27.9 172.6,27.9" stroke="#3c52b6" stroke-width="2.4"/>
<path d="M53.4,29.5C60.7,29.5 67.9,24.6 75.2,24.9C82.5,25.1 89.7,31.0 97.0,31.0C105.5,31.0 114.1,21.8 122.6,21.8C130.9,21.8 139.3,33.2 147.6,34.8C155.9,36.4 164.3,31.4 172.6,31.4" stroke="#64a040" stroke-width="1.7"/>
<path d="M53.4,30.2C67.9,30.2 82.5,34.8 97.0,34.8C101.3,34.8 105.5,29.4 109.8,27.5C114.1,25.7 118.3,23.7 122.6,23.7C130.9,23.7 139.3,35.3 147.6,36.3C155.9,37.4 164.3,30.2 172.6,30.2" stroke="#3c52b6" stroke-width="2.4"/>
<path d="M53.4,36.3C62.1,36.3 70.8,44.7 79.6,47.4C85.4,49.3 91.2,50.1 97.0,50.1C105.5,50.1 114.1,60.0 122.6,60.0C128.4,60.0 134.3,60.5 140.1,57.8C147.6,54.2 155.1,45.5 162.6,40.9C165.9,38.9 169.3,37.9 172.6,37.9" stroke="#64a040" stroke-width="1.7"/>
<path d="M53.4,115.1C59.2,115.1 65.0,113.3 70.8,111.3C75.9,109.6 81.0,106.1 86.1,104.0C89.7,102.5 93.4,100.6 97.0,100.6C105.5,100.6 114.1,95.6 122.6,95.6C129.3,95.6 135.9,101.4 142.6,104.0C152.6,107.9 162.6,115.1 172.6,115.1" stroke="#3c52b6" stroke-width="2.4"/>
<path d="M53.4,140.4C62.1,140.4 70.8,130.0 79.6,125.1C85.4,121.8 91.2,115.9 97.0,115.9C101.3,115.9 105.5,124.2 109.8,128.9C114.1,133.6 118.3,144.2 122.6,144.2C139.3,144.2 155.9,140.4 172.6,140.4" stroke="#3c52b6" stroke-width="2.4"/>
<path d="M53.4,155.7C60.7,155.7 67.9,130.9 75.2,117.4C81.0,106.7 86.8,92.7 92.6,83.0C94.1,80.6 95.5,81.1 97.0,81.1C105.5,81.1 114.1,84.9 122.6,84.9C129.3,84.9 135.9,104.7 142.6,109.8C152.6,117.4 162.6,123.2 172.6,123.2" stroke="#64a040" stroke-width="1.7"/>
<path d="M53.4,140.4C62.1,140.4 70.8,122.9 79.6,113.6C85.4,107.4 91.2,93.7 97.0,93.7C105.5,93.7 114.1,96.8 122.6,96.8C139.3,96.8 155.9,121.2 172.6,121.2" stroke="#64a040" stroke-width="1.7"/>
<path d="M122.6,83.0C130.9,83.0 139.3,100.0 147.6,106.7C155.9,113.4 164.3,123.2 172.6,123.2" stroke="#64a040" stroke-width="1.7"/>
<path d="M53.4,138.5C58.5,138.5 63.6,127.6 68.7,121.2C73.7,114.9 78.8,105.6 83.9,100.2C88.3,95.6 92.6,91.4 97.0,91.4C101.3,91.4 105.5,99.7 109.8,102.1C114.1,104.5 118.3,106.0 122.6,106.0C130.9,106.0 139.3,114.6 147.6,117.4C155.9,120.3 164.3,123.2 172.6,123.2" stroke="#64a040" stroke-width="1.7"/>
<path d="M53.4,149.9C58.5,149.9 63.6,140.5 68.7,132.7C72.3,127.1 75.9,116.2 79.6,109.8C83.9,102.1 88.3,95.9 92.6,90.7C94.1,88.9 95.5,88.7 97.0,88.7C105.5,88.7 114.1,90.7 122.6,90.7C130.9,90.7 139.3,106.0 147.6,111.7C155.9,117.4 164.3,125.1 172.6,125.1" stroke="#64a040" stroke-width="1.7"/>
<path d="M186.3,-5.0C189.3,-5.0 192.4,12.2 195.4,12.2C202.7,12.2 209.9,24.1 217.2,24.1C224.5,24.1 231.7,12.2 239.0,12.2C243.2,12.2 247.5,-1.2 251.7,-1.2" stroke="#64a040" stroke-width="1.7"/>
<path d="M259.3,2.7C264.4,2.7 269.6,18.9 274.7,21.0C281.5,24.0 288.4,19.4 295.2,18.0C302.1,16.6 308.9,12.6 315.8,12.6" stroke="#64a040" stroke-width="1.7"/>
<path d="M172.6,27.5C180.2,27.5 187.8,42.5 195.4,42.5C209.9,42.5 224.5,47.8 239.0,47.8C247.5,47.8 255.9,44.8 264.4,44.8C281.5,44.8 298.7,44.0 315.8,44.0" stroke="#3c52b6" stroke-width="2.4"/>
<path d="M195.4,42.5C204.1,42.5 212.8,51.7 221.6,56.2C227.4,59.2 233.2,65.0 239.0,65.0C247.5,65.0 255.9,59.3 264.4,59.3C281.5,59.3 298.7,51.6 315.8,51.6" stroke="#3c52b6" stroke-width="2.4"/>
<path d="M195.4,23.7C209.9,23.7 224.5,19.9 239.0,19.9C247.5,19.9 255.9,16.8 264.4,16.8C269.5,16.8 274.7,-1.2 279.8,-1.2" stroke="#3c52b6" stroke-width="2.4"/>
<path d="M259.3,14.1C261.0,14.1 262.7,16.8 264.4,16.8C273.0,16.8 281.5,32.8 290.1,37.1C298.7,41.4 307.2,42.8 315.8,42.8" stroke="#3c52b6" stroke-width="2.4"/>
<path d="M195.4,121.2C204.1,121.2 212.8,105.3 221.6,94.5C227.4,87.2 233.2,66.9 239.0,66.9C242.8,66.9 246.6,63.0 250.4,62.0C255.1,60.7 259.7,60.0 264.4,60.0C274.7,60.0 285.0,76.1 295.2,86.8C302.1,94.0 308.9,113.6 315.8,113.6" stroke="#64a040" stroke-width="1.7"/>
<path d="M239.0,52.4C247.5,52.4 255.9,60.0 264.4,60.0C273.0,60.0 281.5,76.6 290.1,83.0C298.7,89.4 307.2,98.3 315.8,98.3" stroke="#64a040" stroke-width="1.7"/>
<path d="M172.6,114.7C180.2,114.7 187.8,115.9 195.4,115.9C204.1,115.9 212.8,106.4 221.6,102.1C227.4,99.3 233.2,94.5 239.0,94.5C247.5,94.5 255.9,99.1 264.4,99.1C271.3,99.1 278.1,100.0 285.0,102.1C295.2,105.3 305.5,115.1 315.8,115.1" stroke="#3c52b6" stroke-width="2.4"/>
<path d="M195.4,125.1C209.9,125.1 224.5,113.6 239.0,113.6C247.5,113.6 255.9,117.4 264.4,117.4C281.5,117.4 298.7,128.9 315.8,128.9" stroke="#3c52b6" stroke-width="2.4"/>
<path d="M274.7,67.7C279.8,67.7 285.0,73.2 290.1,79.2C298.7,89.1 307.2,115.1 315.8,115.1" stroke="#64a040" stroke-width="1.7"/>
</g>
<g stroke="#111" stroke-width="1" fill="none">
<line x1="97.0" y1="6.5" x2="97.0" y2="159.6"/>
<line x1="122.6" y1="6.5" x2="122.6" y2="159.6"/>
<line x1="172.6" y1="6.5" x2="172.6" y2="159.6"/>
<line x1="195.4" y1="6.5" x2="195.4" y2="159.6"/>
<line x1="239.0" y1="6.5" x2="239.0" y2="159.6"/>
<line x1="264.4" y1="6.5" x2="264.4" y2="159.6"/>
<line x1="53.4" y1="83.0" x2="315.8" y2="83.0"/>
</g>
<rect x="53.4" y="6.5" width="262.40000000000003" height="153.1" fill="none" stroke="#1a1a1a" stroke-width="1.2"/>
<text transform="translate(-1.2,9.2) scale(0.94,1)" font-size="13.00" text-anchor="start" >(a)</text>
<text transform="translate(43.2,10.2) scale(0.94,1)" font-size="13.52" text-anchor="end" >2</text>
<text transform="translate(43.2,48.5) scale(0.94,1)" font-size="13.52" text-anchor="end" >1</text>
<text transform="translate(43.2,86.7) scale(0.94,1)" font-size="13.52" text-anchor="end" >0</text>
<text transform="translate(43.2,125.0) scale(0.94,1)" font-size="13.52" text-anchor="end" >-1</text>
<text transform="translate(43.2,163.2) scale(0.94,1)" font-size="13.52" text-anchor="end" >-2</text>
<text transform="translate(21,115) rotate(-90)" font-size="13.6" textLength="66" lengthAdjust="spacingAndGlyphs">Energy (eV)</text>
<text transform="translate(53.4,175.6) scale(0.94,1)" font-size="13.52" text-anchor="middle" >Γ</text>
<text transform="translate(97.0,175.6) scale(0.94,1)" font-size="13.52" text-anchor="middle" >M</text>
<text transform="translate(122.6,175.6) scale(0.94,1)" font-size="13.52" text-anchor="middle" >K</text>
<text transform="translate(172.6,175.6) scale(0.94,1)" font-size="13.52" text-anchor="middle" >Γ</text>
<text transform="translate(195.4,175.6) scale(0.94,1)" font-size="13.52" text-anchor="middle" >A</text>
<text transform="translate(239.0,175.6) scale(0.94,1)" font-size="13.52" text-anchor="middle" >L</text>
<text transform="translate(264.4,175.6) scale(0.94,1)" font-size="13.52" text-anchor="middle" >H</text>
<text transform="translate(315.8,175.6) scale(0.94,1)" font-size="13.52" text-anchor="middle" >A</text>
<clipPath id="clipB"><rect x="372.6" y="7.0" width="260.29999999999995" height="153.5"/></clipPath>
<g clip-path="url(#clipB)">
<polyline points="372.6,153.5 373.3,155.6 373.9,157.6 374.6,157.1 375.2,157.1 375.9,157.5 376.5,156.1 377.2,156.2 377.8,156.9 378.5,156.1 379.1,156.6 379.8,158.8 380.4,159.0 381.1,157.4 381.7,157.2 382.4,158.4 383.0,159.1 383.7,159.0 384.3,158.2 385.0,158.2 385.6,158.5 386.3,157.5 387.0,157.0 387.6,157.4 388.3,158.0 388.9,159.0 389.6,159.6 390.2,159.9 390.9,159.5 391.5,159.2 392.2,159.8 392.8,160.2 393.5,160.5 394.1,160.5 394.8,160.2 395.4,160.0 396.1,160.0 396.7,158.8 397.4,157.4 398.0,157.9 398.7,159.0 399.3,158.1 400.0,154.7 400.7,149.3 401.3,148.3 402.0,148.4 402.6,142.6 403.3,137.0 403.9,136.7 404.6,136.4 405.2,135.4 405.9,137.1 406.5,137.5 407.2,134.0 407.8,128.8 408.5,123.2 409.1,118.8 409.8,119.4 410.4,120.7 411.1,123.0 411.7,124.4 412.4,121.6 413.0,122.4 413.7,125.5 414.4,125.3 415.0,124.0 415.7,120.2 416.3,115.6 417.0,119.2 417.6,131.2 418.3,136.2 418.9,132.0 419.6,126.9 420.2,124.4 420.9,129.5 421.5,135.8 422.2,132.1 422.8,126.5 423.5,125.9 424.1,127.0 424.8,129.6 425.4,130.4 426.1,128.4 426.7,127.2 427.4,127.5 428.1,129.4 428.7,130.3 429.4,128.3 430.0,125.4 430.7,122.0 431.3,121.6 432.0,125.9 432.6,130.0 433.3,129.9 433.9,127.0 434.6,126.9 435.2,128.2 435.9,128.4 436.5,127.4 437.2,125.6 437.8,124.0 438.5,121.1 439.1,120.4 439.8,124.0 440.4,127.3 441.1,124.3 441.8,122.6 442.4,126.3 443.1,126.1 443.7,126.0 444.4,127.3 445.0,122.2 445.7,119.9 446.3,122.9 447.0,124.5 447.6,125.9 448.3,127.1 448.9,125.2 449.6,118.8 450.2,116.8 450.9,121.2 451.5,120.7 452.2,112.5 452.8,113.1 453.5,118.8 454.1,107.2 454.8,95.2 455.5,97.8 456.1,101.3 456.8,103.4 457.4,110.2 458.1,121.2 458.7,124.5 459.4,118.0 460.0,116.2 460.7,118.9 461.3,120.3 462.0,120.7 462.6,117.5 463.3,117.0 463.9,119.1 464.6,117.1 465.2,113.1 465.9,111.9 466.5,113.6 467.2,115.6 467.8,115.4 468.5,113.9 469.2,113.3 469.8,114.1 470.5,121.4 471.1,124.9 471.8,112.3 472.4,103.7 473.1,109.5 473.7,115.2 474.4,116.2 475.0,115.8 475.7,117.3 476.3,120.4 477.0,118.7 477.6,110.7 478.3,101.0 478.9,92.3 479.6,76.9 480.2,57.8 480.9,70.2 481.5,81.2 482.2,93.9 482.9,108.9 483.5,112.1 484.2,101.9 484.8,97.3 485.5,100.7 486.1,101.9 486.8,94.2 487.4,86.6 488.1,84.0 488.7,81.5 489.4,82.7 490.0,82.3 490.7,71.1 491.3,57.2 492.0,48.7 492.6,49.4 493.3,46.4 493.9,45.4 494.6,49.4 495.2,57.2 495.9,61.4 496.6,57.4 497.2,47.0 497.9,36.9 498.5,49.2 499.2,71.5 499.8,89.2 500.5,89.3 501.1,84.3 501.8,83.0 502.4,85.4 503.1,90.0 503.7,91.8 504.4,81.8 505.0,64.9 505.7,61.9 506.3,58.2 507.0,39.5 507.6,29.4 508.3,30.8 508.9,46.4 509.6,79.0 510.3,86.0 510.9,81.7 511.6,87.9 512.2,92.0 512.9,85.0 513.5,83.6 514.2,83.6 514.8,78.5 515.5,74.9 516.1,71.8 516.8,69.4 517.4,69.1 518.1,78.6 518.7,84.1 519.4,80.5 520.0,90.0 520.7,101.3 521.3,104.9 522.0,105.2 522.6,104.6 523.3,105.3 524.0,103.6 524.6,104.6 525.3,116.0 525.9,128.0 526.6,132.4 527.2,135.6 527.9,138.8 528.5,140.8 529.2,141.3 529.8,139.1 530.5,137.0 531.1,137.2 531.8,130.6 532.4,118.0 533.1,111.1 533.7,104.7 534.4,97.8 535.0,99.1 535.7,97.0 536.3,96.4 537.0,93.0 537.7,73.8 538.3,68.7 539.0,72.6 539.6,69.2 540.3,75.4 540.9,89.0 541.6,98.7 542.2,105.4 542.9,108.4 543.5,106.6 544.2,108.1 544.8,104.6 545.5,97.0 546.1,95.3 546.8,94.1 547.4,93.2 548.1,90.9 548.7,80.5 549.4,71.9 550.0,71.1 550.7,74.8 551.4,81.8 552.0,86.0 552.7,80.8 553.3,71.3 554.0,67.4 554.6,68.4 555.3,75.3 555.9,78.0 556.6,65.2 557.2,51.9 557.9,45.1 558.5,38.6 559.2,28.9 559.8,22.9 560.5,17.4 561.1,4.1 561.8,1.9 562.4,1.9 563.1,1.9 563.7,1.9 564.4,7.4 565.1,19.3 565.7,29.1 566.4,45.7 567.0,61.4 567.7,61.9 568.3,68.5 569.0,91.2 569.6,101.2 570.3,100.7 570.9,95.5 571.6,91.2 572.2,98.8 572.9,105.4 573.5,105.3 574.2,105.2 574.8,103.4 575.5,102.1 576.1,105.0 576.8,104.9 577.4,98.0 578.1,99.5 578.8,106.1 579.4,110.7 580.1,115.1 580.7,115.2 581.4,111.7 582.0,108.1 582.7,104.7 583.3,101.4 584.0,93.6 584.6,89.8 585.3,90.0 585.9,85.5 586.6,81.8 587.2,77.4 587.9,72.9 588.5,74.3 589.2,82.1 589.8,79.5 590.5,75.0 591.1,86.9 591.8,101.0 592.5,106.6 593.1,112.1 593.8,111.4 594.4,102.4 595.1,99.5 595.7,107.0 596.4,113.5 597.0,114.2 597.7,115.0 598.3,115.5 599.0,114.6 599.6,115.4 600.3,116.3 600.9,110.7 601.6,108.8 602.2,111.1 602.9,111.7 603.5,115.0 604.2,115.5 604.8,112.2 605.5,112.2 606.2,113.9 606.8,114.6 607.5,111.6 608.1,111.5 608.8,116.3 609.4,114.2 610.1,110.1 610.7,108.1 611.4,114.5 612.0,122.3 612.7,115.9 613.3,110.9 614.0,114.2 614.6,114.6 615.3,112.9 615.9,111.0 616.6,107.1 617.2,104.6 617.9,107.0 618.5,118.2 619.2,123.4 619.9,115.1 620.5,111.3 621.2,117.8 621.8,124.0 622.5,120.7 623.1,115.5 623.8,116.1 624.4,117.3 625.1,118.7 625.7,120.8 626.4,122.3 627.0,118.2 627.7,111.0 628.3,107.8 629.0,108.1 629.6,104.8 630.3,102.3 630.9,108.9 631.6,109.5 632.2,108.2 632.9,111.2" fill="none" stroke="#222" stroke-width="0.9" stroke-linejoin="round"/>
<polyline points="372.6,158.8 373.3,159.0 373.9,159.2 374.6,159.0 375.2,159.4 375.9,159.9 376.5,159.5 377.2,158.9 377.8,159.1 378.5,159.4 379.1,159.1 379.8,159.0 380.4,158.9 381.1,159.2 381.7,159.5 382.4,159.4 383.0,159.1 383.7,158.6 384.3,158.6 385.0,159.3 385.6,159.7 386.3,159.5 387.0,159.5 387.6,159.3 388.3,158.6 388.9,158.4 389.6,158.8 390.2,159.2 390.9,159.2 391.5,159.8 392.2,159.9 392.8,159.4 393.5,159.8 394.1,160.5 394.8,160.1 395.4,158.7 396.1,158.0 396.7,158.4 397.4,158.9 398.0,159.1 398.7,159.2 399.3,159.3 400.0,159.4 400.7,159.2 401.3,158.7 402.0,158.5 402.6,158.4 403.3,158.2 403.9,158.2 404.6,158.0 405.2,158.3 405.9,159.1 406.5,158.8 407.2,158.5 407.8,158.6 408.5,158.7 409.1,158.7 409.8,158.1 410.4,157.5 411.1,157.0 411.7,156.4 412.4,157.0 413.0,158.0 413.7,158.2 414.4,158.2 415.0,158.0 415.7,157.6 416.3,157.8 417.0,157.4 417.6,156.4 418.3,156.6 418.9,157.0 419.6,157.0 420.2,157.3 420.9,157.4 421.5,157.8 422.2,158.2 422.8,157.5 423.5,157.2 424.1,158.0 424.8,158.6 425.4,159.0 426.1,159.4 426.7,159.1 427.4,157.9 428.1,157.0 428.7,157.9 429.4,158.5 430.0,157.7 430.7,157.5 431.3,157.7 432.0,157.5 432.6,157.6 433.3,157.5 433.9,157.1 434.6,157.2 435.2,157.8 435.9,158.1 436.5,158.1 437.2,157.5 437.8,156.9 438.5,156.8 439.1,157.1 439.8,157.0 440.4,156.7 441.1,157.2 441.8,157.7 442.4,157.7 443.1,157.7 443.7,157.0 444.4,156.3 445.0,157.2 445.7,158.5 446.3,158.7 447.0,158.2 447.6,157.0 448.3,156.5 448.9,157.1 449.6,157.3 450.2,157.3 450.9,156.7 451.5,156.3 452.2,157.4 452.8,157.9 453.5,157.0 454.1,156.4 454.8,156.2 455.5,156.4 456.1,157.7 456.8,158.1 457.4,157.0 458.1,157.2 458.7,158.1 459.4,157.5 460.0,156.3 460.7,156.0 461.3,156.0 462.0,156.1 462.6,157.0 463.3,157.7 463.9,157.7 464.6,157.5 465.2,157.2 465.9,156.9 466.5,156.6 467.2,156.5 467.8,156.1 468.5,155.1 469.2,154.2 469.8,154.2 470.5,155.1 471.1,155.8 471.8,155.7 472.4,154.6 473.1,154.4 473.7,155.2 474.4,155.3 475.0,155.5 475.7,155.7 476.3,155.5 477.0,155.1 477.6,154.7 478.3,155.3 478.9,155.0 479.6,154.0 480.2,153.5 480.9,153.0 481.5,152.9 482.2,152.6 482.9,152.2 483.5,151.1 484.2,149.4 484.8,148.5 485.5,149.1 486.1,150.4 486.8,151.3 487.4,151.7 488.1,153.5 488.7,155.4 489.4,156.1 490.0,155.3 490.7,154.8 491.3,155.7 492.0,156.3 492.6,156.2 493.3,156.3 493.9,156.8 494.6,156.5 495.2,156.0 495.9,157.1 496.6,157.2 497.2,155.7 497.9,155.2 498.5,156.0 499.2,156.4 499.8,156.3 500.5,156.1 501.1,155.9 501.8,156.7 502.4,157.4 503.1,156.8 503.7,155.4 504.4,153.7 505.0,153.2 505.7,154.7 506.3,156.0 507.0,154.4 507.6,151.9 508.3,152.2 508.9,152.2 509.6,152.1 510.3,153.9 510.9,155.1 511.6,155.7 512.2,155.8 512.9,154.8 513.5,155.3 514.2,156.7 514.8,156.5 515.5,156.5 516.1,156.9 516.8,157.4 517.4,158.1 518.1,158.3 518.7,157.7 519.4,156.4 520.0,156.2 520.7,157.8 521.3,158.5 522.0,158.2 522.6,157.9 523.3,157.5 524.0,157.2 524.6,158.0 525.3,159.2 525.9,160.0 526.6,160.0 527.2,160.0 527.9,159.9 528.5,159.5 529.2,159.4 529.8,159.7 530.5,159.6 531.1,159.0 531.8,159.0 532.4,159.6 533.1,159.3 533.7,159.1 534.4,159.2 535.0,158.8 535.7,157.9 536.3,157.2 537.0,157.6 537.7,158.5 538.3,158.3 539.0,157.7 539.6,157.7 540.3,157.4 540.9,156.7 541.6,156.8 542.2,157.0 542.9,156.2 543.5,155.3 544.2,155.1 544.8,154.8 545.5,154.4 546.1,154.3 546.8,154.0 547.4,153.2 548.1,152.1 548.7,152.6 549.4,154.0 550.0,152.6 550.7,150.8 551.4,151.1 552.0,150.9 552.7,150.3 553.3,150.7 554.0,149.9 554.6,148.2 555.3,148.2 555.9,149.8 556.6,149.1 557.2,146.8 557.9,146.9 558.5,145.4 559.2,143.0 559.8,145.8 560.5,146.8 561.1,143.0 561.8,143.0 562.4,143.8 563.1,143.5 563.7,145.0 564.4,146.2 565.1,147.6 565.7,148.7 566.4,148.1 567.0,147.4 567.7,147.1 568.3,148.2 569.0,150.1 569.6,149.8 570.3,148.4 570.9,149.3 571.6,150.1 572.2,149.4 572.9,149.0 573.5,150.3 574.2,152.3 574.8,152.8 575.5,151.7 576.1,151.2 576.8,152.2 577.4,151.7 578.1,149.5 578.8,148.3 579.4,147.0 580.1,144.3 580.7,143.9 581.4,143.0 582.0,140.6 582.7,140.7 583.3,141.3 584.0,141.4 584.6,141.6 585.3,142.1 585.9,141.0 586.6,140.3 587.2,139.6 587.9,137.0 588.5,137.5 589.2,138.9 589.8,137.2 590.5,136.0 591.1,135.4 591.8,135.4 592.5,134.5 593.1,130.7 593.8,129.7 594.4,132.9 595.1,133.2 595.7,132.8 596.4,133.9 597.0,136.8 597.7,138.5 598.3,139.6 599.0,143.2 599.6,146.0 600.3,147.3 600.9,147.5 601.6,148.1 602.2,149.2 602.9,149.1 603.5,149.2 604.2,150.6 604.8,151.4 605.5,151.0 606.2,151.8 606.8,154.1 607.5,153.8 608.1,152.2 608.8,153.0 609.4,154.1 610.1,152.9 610.7,152.1 611.4,153.6 612.0,154.7 612.7,153.4 613.3,152.6 614.0,153.3 614.6,153.1 615.3,152.4 615.9,153.1 616.6,153.7 617.2,153.6 617.9,153.4 618.5,153.3 619.2,153.5 619.9,154.8 620.5,155.6 621.2,154.8 621.8,155.3 622.5,156.5 623.1,155.6 623.8,154.8 624.4,156.0 625.1,157.4 625.7,157.2 626.4,156.5 627.0,157.0 627.7,157.3 628.3,156.1 629.0,155.1 629.6,155.3 630.3,155.9 630.9,155.8 631.6,155.4 632.2,155.8 632.9,156.5" fill="none" stroke="#22aa22" stroke-width="0.9" stroke-linejoin="round"/>
<polyline points="372.6,159.0 373.3,159.3 373.9,160.3 374.6,160.5 375.2,160.5 375.9,160.3 376.5,160.3 377.2,160.3 377.8,160.3 378.5,160.5 379.1,160.5 379.8,159.7 380.4,158.9 381.1,158.9 381.7,159.6 382.4,160.3 383.0,160.5 383.7,160.5 384.3,160.2 385.0,160.5 385.6,160.5 386.3,160.0 387.0,159.3 387.6,159.8 388.3,160.5 388.9,160.4 389.6,159.9 390.2,160.1 390.9,160.5 391.5,160.1 392.2,159.2 392.8,159.1 393.5,160.2 394.1,160.2 394.8,160.0 395.4,160.2 396.1,159.4 396.7,157.7 397.4,156.0 398.0,156.2 398.7,156.5 399.3,154.0 400.0,153.2 400.7,153.4 401.3,151.4 402.0,149.4 402.6,147.7 403.3,146.9 403.9,146.8 404.6,142.9 405.2,137.7 405.9,136.4 406.5,135.9 407.2,135.1 407.8,136.6 408.5,139.0 409.1,140.1 409.8,141.9 410.4,143.2 411.1,141.5 411.7,136.8 412.4,134.7 413.0,135.3 413.7,135.1 414.4,136.9 415.0,137.7 415.7,138.1 416.3,139.1 417.0,136.0 417.6,134.6 418.3,137.0 418.9,137.2 419.6,135.6 420.2,134.2 420.9,134.7 421.5,135.6 422.2,135.9 422.8,138.3 423.5,139.2 424.1,138.1 424.8,139.2 425.4,138.5 426.1,137.7 426.7,139.1 427.4,137.8 428.1,136.1 428.7,138.2 429.4,142.8 430.0,145.6 430.7,143.4 431.3,140.8 432.0,140.6 432.6,140.0 433.3,138.7 433.9,138.7 434.6,137.8 435.2,137.2 435.9,138.8 436.5,136.7 437.2,132.6 437.8,134.7 438.5,138.8 439.1,137.8 439.8,134.7 440.4,133.7 441.1,135.7 441.8,138.1 442.4,137.8 443.1,135.5 443.7,135.5 444.4,137.0 445.0,137.3 445.7,136.2 446.3,135.5 447.0,135.9 447.6,134.5 448.3,132.9 448.9,134.5 449.6,135.2 450.2,134.1 450.9,134.8 451.5,135.7 452.2,137.9 452.8,139.0 453.5,135.9 454.1,134.1 454.8,134.3 455.5,134.8 456.1,136.3 456.8,136.8 457.4,133.5 458.1,129.8 458.7,131.1 459.4,133.8 460.0,133.9 460.7,134.8 461.3,134.4 462.0,133.1 462.6,135.7 463.3,138.6 463.9,137.1 464.6,134.2 465.2,131.9 465.9,131.5 466.5,132.8 467.2,132.1 467.8,131.7 468.5,132.2 469.2,131.0 469.8,132.0 470.5,133.1 471.1,132.8 471.8,134.2 472.4,133.9 473.1,132.2 473.7,132.5 474.4,133.7 475.0,133.5 475.7,131.7 476.3,131.3 477.0,132.8 477.6,133.1 478.3,133.8 478.9,132.0 479.6,127.4 480.2,130.4 480.9,133.1 481.5,130.9 482.2,131.4 482.9,130.3 483.5,129.1 484.2,131.5 484.8,132.6 485.5,132.0 486.1,132.7 486.8,134.9 487.4,134.3 488.1,130.0 488.7,126.3 489.4,124.4 490.0,123.3 490.7,125.5 491.3,128.7 492.0,131.0 492.6,133.5 493.3,133.0 493.9,130.9 494.6,128.9 495.2,129.3 495.9,132.8 496.6,136.4 497.2,138.1 497.9,136.8 498.5,135.3 499.2,136.5 499.8,136.8 500.5,134.3 501.1,135.2 501.8,139.5 502.4,142.0 503.1,141.8 503.7,140.6 504.4,139.7 505.0,138.3 505.7,136.4 506.3,134.9 507.0,136.2 507.6,138.9 508.3,140.6 508.9,142.4 509.6,142.0 510.3,140.7 510.9,141.3 511.6,141.9 512.2,143.9 512.9,144.9 513.5,144.6 514.2,145.7 514.8,146.8 515.5,148.1 516.1,149.1 516.8,149.5 517.4,148.9 518.1,147.8 518.7,147.9 519.4,149.9 520.0,152.9 520.7,152.4 521.3,151.1 522.0,151.6 522.6,151.4 523.3,152.3 524.0,153.8 524.6,153.0 525.3,152.4 525.9,154.3 526.6,156.3 527.2,157.2 527.9,158.1 528.5,159.0 529.2,158.1 529.8,156.2 530.5,156.1 531.1,156.4 531.8,155.6 532.4,155.0 533.1,154.8 533.7,154.2 534.4,154.5 535.0,154.7 535.7,155.2 536.3,157.1 537.0,156.8 537.7,155.7 538.3,156.0 539.0,156.0 539.6,156.1 540.3,154.7 540.9,152.5 541.6,153.1 542.2,154.1 542.9,153.8 543.5,154.0 544.2,153.8 544.8,153.2 545.5,153.6 546.1,154.8 546.8,154.4 547.4,154.5 548.1,155.0 548.7,154.3 549.4,153.8 550.0,152.8 550.7,152.5 551.4,153.1 552.0,153.2 552.7,154.0 553.3,155.4 554.0,155.1 554.6,154.3 555.3,153.9 555.9,153.5 556.6,153.7 557.2,153.5 557.9,151.4 558.5,150.8 559.2,153.1 559.8,154.0 560.5,153.2 561.1,151.7 561.8,152.2 562.4,154.7 563.1,155.9 563.7,156.1 564.4,156.7 565.1,156.2 565.7,155.3 566.4,154.5 567.0,153.0 567.7,153.2 568.3,155.3 569.0,155.9 569.6,154.4 570.3,153.1 570.9,154.6 571.6,155.5 572.2,154.0 572.9,153.1 573.5,152.6 574.2,151.3 574.8,151.3 575.5,152.4 576.1,153.1 576.8,152.9 577.4,153.6 578.1,154.5 578.8,153.8 579.4,153.6 580.1,153.5 580.7,151.9 581.4,149.5 582.0,149.0 582.7,149.2 583.3,150.1 584.0,153.3 584.6,154.5 585.3,151.9 585.9,149.5 586.6,149.2 587.2,148.6 587.9,149.4 588.5,151.2 589.2,149.3 589.8,147.5 590.5,150.6 591.1,152.8 591.8,151.5 592.5,150.0 593.1,149.7 593.8,150.1 594.4,151.1 595.1,151.4 595.7,148.3 596.4,145.4 597.0,147.1 597.7,149.8 598.3,151.3 599.0,152.3 599.6,150.3 600.3,149.1 600.9,149.6 601.6,148.4 602.2,147.2 602.9,146.7 603.5,147.1 604.2,149.0 604.8,151.3 605.5,151.2 606.2,149.1 606.8,147.6 607.5,146.2 608.1,145.7 608.8,147.3 609.4,147.5 610.1,146.4 610.7,146.0 611.4,145.8 612.0,145.1 612.7,143.9 613.3,143.7 614.0,143.4 614.6,142.6 615.3,143.2 615.9,144.8 616.6,144.5 617.2,143.7 617.9,142.4 618.5,141.9 619.2,144.9 619.9,146.6 620.5,145.3 621.2,145.0 621.8,146.0 622.5,145.9 623.1,146.6 623.8,147.0 624.4,145.3 625.1,144.5 625.7,145.6 626.4,146.0 627.0,145.6 627.7,147.7 628.3,149.7 629.0,147.6 629.6,144.1 630.3,141.2 630.9,139.9 631.6,141.6 632.2,144.4 632.9,145.6" fill="none" stroke="#2222dd" stroke-width="0.9" stroke-linejoin="round"/>
<polyline points="372.6,158.3 373.3,159.0 373.9,159.0 374.6,158.2 375.2,159.1 375.9,159.2 376.5,158.4 377.2,159.2 377.8,159.7 378.5,158.9 379.1,156.9 379.8,155.8 380.4,157.4 381.1,158.6 381.7,158.2 382.4,158.2 383.0,157.7 383.7,157.3 384.3,158.1 385.0,158.6 385.6,158.7 386.3,158.3 387.0,158.2 387.6,158.8 388.3,158.7 388.9,158.5 389.6,159.0 390.2,159.7 390.9,159.6 391.5,158.8 392.2,157.3 392.8,157.2 393.5,159.0 394.1,158.7 394.8,157.0 395.4,156.5 396.1,157.3 396.7,158.4 397.4,158.1 398.0,157.6 398.7,157.6 399.3,157.9 400.0,157.8 400.7,155.5 401.3,154.5 402.0,155.6 402.6,155.5 403.3,155.7 403.9,156.2 404.6,155.0 405.2,154.1 405.9,155.1 406.5,155.6 407.2,154.8 407.8,153.3 408.5,153.0 409.1,154.0 409.8,153.8 410.4,154.7 411.1,156.5 411.7,155.7 412.4,154.2 413.0,153.5 413.7,154.4 414.4,155.8 415.0,155.0 415.7,155.0 416.3,155.1 417.0,152.6 417.6,151.7 418.3,152.4 418.9,151.9 419.6,152.2 420.2,153.2 420.9,152.4 421.5,152.3 422.2,154.7 422.8,153.3 423.5,152.1 424.1,154.1 424.8,153.2 425.4,150.7 426.1,148.7 426.7,148.5 427.4,151.4 428.1,151.9 428.7,148.3 429.4,147.5 430.0,149.5 430.7,149.4 431.3,148.3 432.0,148.1 432.6,147.4 433.3,148.2 433.9,150.0 434.6,148.3 435.2,147.4 435.9,147.7 436.5,148.7 437.2,150.4 437.8,147.9 438.5,147.3 439.1,149.2 439.8,148.2 440.4,145.4 441.1,141.2 441.8,141.1 442.4,145.2 443.1,148.4 443.7,148.9 444.4,148.3 445.0,148.7 445.7,149.2 446.3,148.5 447.0,147.6 447.6,147.8 448.3,148.5 448.9,145.6 449.6,142.7 450.2,146.7 450.9,148.2 451.5,145.5 452.2,144.6 452.8,143.4 453.5,141.3 454.1,140.3 454.8,142.5 455.5,144.3 456.1,144.6 456.8,146.6 457.4,146.4 458.1,146.0 458.7,145.7 459.4,143.5 460.0,142.0 460.7,142.8 461.3,144.2 462.0,142.2 462.6,140.7 463.3,143.4 463.9,145.7 464.6,146.1 465.2,148.1 465.9,144.7 466.5,135.9 467.2,134.0 467.8,137.0 468.5,139.6 469.2,139.4 469.8,138.1 470.5,138.8 471.1,140.3 471.8,143.5 472.4,144.7 473.1,140.8 473.7,137.2 474.4,135.2 475.0,129.8 475.7,123.8 476.3,123.3 477.0,121.3 477.6,113.8 478.3,112.4 478.9,111.5 479.6,102.7 480.2,96.5 480.9,102.3 481.5,101.3 482.2,100.1 482.9,110.1 483.5,122.5 484.2,130.2 484.8,129.5 485.5,128.4 486.1,133.4 486.8,136.2 487.4,133.2 488.1,128.7 488.7,123.0 489.4,112.2 490.0,104.8 490.7,104.2 491.3,101.8 492.0,93.1 492.6,84.2 493.3,83.1 493.9,90.9 494.6,90.6 495.2,86.2 495.9,84.5 496.6,84.6 497.2,90.3 497.9,100.4 498.5,107.2 499.2,106.1 499.8,102.6 500.5,106.4 501.1,111.1 501.8,112.7 502.4,117.1 503.1,120.1 503.7,117.8 504.4,111.8 505.0,105.7 505.7,96.9 506.3,81.5 507.0,56.5 507.6,50.2 508.3,66.8 508.9,89.3 509.6,106.1 510.3,102.4 510.9,102.9 511.6,107.3 512.2,105.2 512.9,102.0 513.5,101.9 514.2,99.8 514.8,100.2 515.5,104.4 516.1,101.6 516.8,97.4 517.4,104.5 518.1,112.4 518.7,115.5 519.4,116.7 520.0,114.2 520.7,113.7 521.3,114.9 522.0,116.9 522.6,119.6 523.3,121.5 524.0,125.9 524.6,131.6 525.3,134.5 525.9,137.7 526.6,139.3 527.2,139.2 527.9,144.1 528.5,149.2 529.2,150.5 529.8,148.7 530.5,142.8 531.1,138.0 531.8,134.0 532.4,130.5 533.1,127.3 533.7,121.1 534.4,115.6 535.0,113.4 535.7,108.6 536.3,101.6 537.0,96.8 537.7,97.9 538.3,98.7 539.0,92.0 539.6,90.3 540.3,94.6 540.9,94.5 541.6,95.0 542.2,101.8 542.9,109.7 543.5,117.7 544.2,123.3 544.8,123.0 545.5,120.6 546.1,117.8 546.8,116.1 547.4,115.5 548.1,117.3 548.7,116.9 549.4,112.6 550.0,109.8 550.7,107.4 551.4,104.3 552.0,98.9 552.7,90.4 553.3,85.8 554.0,88.4 554.6,88.7 555.3,84.5 555.9,88.7 556.6,86.7 557.2,71.4 557.9,61.0 558.5,55.5 559.2,50.7 559.8,48.6 560.5,34.3 561.1,9.3 561.8,1.9 562.4,1.9 563.1,1.9 563.7,7.6 564.4,12.5 565.1,17.0 565.7,32.7 566.4,43.5 567.0,51.9 567.7,60.6 568.3,63.3 569.0,72.2 569.6,86.1 570.3,92.3 570.9,92.9 571.6,97.7 572.2,102.8 572.9,102.9 573.5,106.1 574.2,112.3 574.8,118.2 575.5,127.7 576.1,129.2 576.8,125.0 577.4,126.4 578.1,128.1 578.8,127.1 579.4,126.0 580.1,126.6 580.7,129.1 581.4,122.9 582.0,114.6 582.7,121.2 583.3,127.9 584.0,122.9 584.6,117.3 585.3,116.3 585.9,119.7 586.6,120.5 587.2,115.9 587.9,118.4 588.5,123.1 589.2,121.2 589.8,119.1 590.5,119.7 591.1,121.5 591.8,122.1 592.5,122.5 593.1,124.1 593.8,126.9 594.4,129.7 595.1,129.7 595.7,129.4 596.4,129.3 597.0,129.8 597.7,132.8 598.3,133.7 599.0,134.1 599.6,137.0 600.3,139.8 600.9,141.4 601.6,139.6 602.2,137.0 602.9,137.1 603.5,139.1 604.2,144.0 604.8,145.8 605.5,144.5 606.2,142.1 606.8,136.9 607.5,138.6 608.1,144.6 608.8,145.6 609.4,144.5 610.1,143.6 610.7,142.8 611.4,141.0 612.0,140.9 612.7,145.0 613.3,147.1 614.0,145.6 614.6,144.3 615.3,144.0 615.9,144.5 616.6,144.7 617.2,145.4 617.9,147.4 618.5,147.5 619.2,144.2 619.9,141.7 620.5,144.1 621.2,146.8 621.8,146.8 622.5,148.5 623.1,150.2 623.8,147.7 624.4,145.9 625.1,148.9 625.7,150.7 626.4,147.5 627.0,144.7 627.7,145.2 628.3,144.9 629.0,143.4 629.6,144.4 630.3,147.4 630.9,149.5 631.6,150.0 632.2,149.5 632.9,149.0" fill="none" stroke="#e02020" stroke-width="0.9" stroke-linejoin="round"/>
</g>
<line x1="528.78" y1="7.0" x2="528.78" y2="160.5" stroke="#777" stroke-width="1"/>
<rect x="372.6" y="7.0" width="260.29999999999995" height="153.5" fill="none" stroke="#777" stroke-width="1.1"/>
<path d="M372.6,134.9h3.5M632.9,134.9h-3.5M372.6,109.3h3.5M632.9,109.3h-3.5M372.6,83.8h3.5M632.9,83.8h-3.5M372.6,58.2h3.5M632.9,58.2h-3.5M372.6,32.6h3.5M632.9,32.6h-3.5M424.7,160.5v-3.5M424.7,7.0v3.5M476.7,160.5v-3.5M476.7,7.0v3.5M528.8,160.5v-3.5M528.8,7.0v3.5M580.8,160.5v-3.5M580.8,7.0v3.5" stroke="#777" stroke-width="1"/>
<text transform="translate(346.5,9.5) scale(0.94,1)" font-size="13.00" text-anchor="start" >(b)</text>
<text transform="translate(372.6,174.8) scale(0.94,1)" font-size="13.00" text-anchor="middle" >-6</text>
<text transform="translate(424.7,174.8) scale(0.94,1)" font-size="13.00" text-anchor="middle" >-4</text>
<text transform="translate(476.7,174.8) scale(0.94,1)" font-size="13.00" text-anchor="middle" >-2</text>
<text transform="translate(529.4,174.8) scale(0.94,1)" font-size="13.00" text-anchor="middle" >0</text>
<text transform="translate(581.4,174.8) scale(0.94,1)" font-size="13.00" text-anchor="middle" >2</text>
<text transform="translate(633.5,174.8) scale(0.94,1)" font-size="13.00" text-anchor="middle" >4</text>
<text x="470.2" y="191.3" font-size="13.8" textLength="64.2" lengthAdjust="spacingAndGlyphs">Energy (eV)</text>
<text transform="translate(644.5,165.1) scale(0.94,1)" font-size="13.00" text-anchor="start" >0</text>
<text transform="translate(644.5,139.5) scale(0.94,1)" font-size="13.00" text-anchor="start" >5</text>
<text transform="translate(644.5,113.9) scale(0.94,1)" font-size="13.00" text-anchor="start" >10</text>
<text transform="translate(644.5,88.3) scale(0.94,1)" font-size="13.00" text-anchor="start" >15</text>
<text transform="translate(644.5,62.8) scale(0.94,1)" font-size="13.00" text-anchor="start" >20</text>
<text transform="translate(644.5,37.2) scale(0.94,1)" font-size="13.00" text-anchor="start" >25</text>
<text transform="translate(644.5,11.6) scale(0.94,1)" font-size="13.00" text-anchor="start" >30</text>
<text transform="translate(683.5,85) rotate(-90)" font-size="12.3" text-anchor="middle">DOS (eV<tspan dy="-5" font-size="9.5">−1</tspan><tspan dy="5">/f.u.)</tspan></text>
<text x="387.5" y="21.9" font-size="13.8" textLength="56.5" lengthAdjust="spacingAndGlyphs">Total DOS</text>
<line x1="459" y1="17.5" x2="476" y2="17.5" stroke="#222" stroke-width="1"/>
<text x="417.9" y="36.5" font-size="13.8" textLength="26.1" lengthAdjust="spacingAndGlyphs">V-3d</text>
<line x1="459" y1="32.1" x2="476" y2="32.1" stroke="#e02020" stroke-width="1"/>
<text x="411.9" y="51.1" font-size="13.8" textLength="32.1" lengthAdjust="spacingAndGlyphs">Sn-5p</text>
<line x1="459" y1="46.7" x2="476" y2="46.7" stroke="#2222dd" stroke-width="1"/>
<text x="411.9" y="65.7" font-size="13.8" textLength="32.1" lengthAdjust="spacingAndGlyphs">Sc-3d</text>
<line x1="459" y1="61.3" x2="476" y2="61.3" stroke="#22aa22" stroke-width="1"/>
<defs>
<clipPath id="hc0"><polygon points="188.0,278.9 156.1,223.0 90.5,223.0 58.6,278.9 90.5,334.8 156.1,334.8"/></clipPath>
<clipPath id="hc1"><polygon points="377.2,278.9 345.8,222.8 280.2,222.8 248.8,278.9 280.2,335.0 345.8,335.0"/></clipPath>
<clipPath id="hc2"><polygon points="564.9,278.3 534.5,222.7 469.3,222.7 438.9,278.3 469.3,333.9 534.5,333.9"/></clipPath>
<filter id="bl1" x="-50%" y="-50%" width="200%" height="200%"><feGaussianBlur stdDeviation="1"/></filter>
<filter id="bl1_5" x="-50%" y="-50%" width="200%" height="200%"><feGaussianBlur stdDeviation="1.5"/></filter>
<filter id="bl2" x="-50%" y="-50%" width="200%" height="200%"><feGaussianBlur stdDeviation="2"/></filter>
<filter id="bl2_5" x="-50%" y="-50%" width="200%" height="200%"><feGaussianBlur stdDeviation="2.5"/></filter>
<filter id="bl3" x="-50%" y="-50%" width="200%" height="200%"><feGaussianBlur stdDeviation="3"/></filter>
<filter id="bl4" x="-50%" y="-50%" width="200%" height="200%"><feGaussianBlur stdDeviation="4"/></filter>
<filter id="bl6" x="-50%" y="-50%" width="200%" height="200%"><feGaussianBlur stdDeviation="6"/></filter>
</defs>
<g clip-path="url(#hc0)">
<polygon points="188.0,278.9 156.1,223.0 90.5,223.0 58.6,278.9 90.5,334.8 156.1,334.8" fill="#e6e6ff"/>
<g filter="url(#bl3)"><polygon points="137.5,283.8 159.7,295.5 173.0,300.0 182.7,287.3 182.7,270.5 173.0,257.8 159.7,262.3 137.5,274.0" fill="#2434ff"/><polygon points="134.6,269.1 155.9,255.7 166.4,246.4 160.2,231.6 145.8,223.3 129.9,225.3 127.1,239.1 126.2,264.2" fill="#2434ff"/><polygon points="120.4,264.2 119.5,239.1 116.7,225.3 100.8,223.3 86.4,231.6 80.2,246.4 90.7,255.7 112.0,269.1" fill="#2434ff"/><polygon points="109.1,274.0 86.9,262.3 73.6,257.8 63.9,270.5 63.9,287.3 73.6,300.0 86.9,295.5 109.1,283.8" fill="#2434ff"/><polygon points="112.0,288.7 90.7,302.1 80.2,311.4 86.4,326.2 100.8,334.5 116.7,332.5 119.5,318.7 120.4,293.6" fill="#2434ff"/><polygon points="126.2,293.6 127.1,318.7 129.9,332.5 145.8,334.5 160.2,326.2 166.4,311.4 155.9,302.1 134.6,288.7" fill="#2434ff"/></g>
<g filter="url(#bl4)" opacity="0.85"><circle cx="154.9" cy="283.9" r="8" fill="#0000e0"/><circle cx="154.9" cy="273.9" r="8" fill="#0000e0"/><circle cx="169.3" cy="278.9" r="6" fill="#0000e0"/><circle cx="143.4" cy="254.0" r="8" fill="#0000e0"/><circle cx="134.8" cy="249.0" r="8" fill="#0000e0"/><circle cx="146.3" cy="239.1" r="6" fill="#0000e0"/><circle cx="111.8" cy="249.0" r="8" fill="#0000e0"/><circle cx="103.2" cy="254.0" r="8" fill="#0000e0"/><circle cx="100.3" cy="239.1" r="6" fill="#0000e0"/><circle cx="91.7" cy="273.9" r="8" fill="#0000e0"/><circle cx="91.7" cy="283.9" r="8" fill="#0000e0"/><circle cx="77.3" cy="278.9" r="6" fill="#0000e0"/><circle cx="103.2" cy="303.8" r="8" fill="#0000e0"/><circle cx="111.8" cy="308.8" r="8" fill="#0000e0"/><circle cx="100.3" cy="318.7" r="6" fill="#0000e0"/><circle cx="134.8" cy="308.8" r="8" fill="#0000e0"/><circle cx="143.4" cy="303.8" r="8" fill="#0000e0"/><circle cx="146.3" cy="318.7" r="6" fill="#0000e0"/></g>
<g filter="url(#bl4)"><circle cx="188.0" cy="278.9" r="9" fill="#e0e0ff"/><circle cx="155.7" cy="222.9" r="9" fill="#e0e0ff"/><circle cx="91.0" cy="222.9" r="9" fill="#e0e0ff"/><circle cx="58.6" cy="278.9" r="9" fill="#e0e0ff"/><circle cx="90.9" cy="334.9" r="9" fill="#e0e0ff"/><circle cx="155.7" cy="334.9" r="9" fill="#e0e0ff"/></g>
<polygon points="188.0,278.9 156.1,223.0 90.5,223.0 58.6,278.9 90.5,334.8 156.1,334.8" fill="none" stroke="#b4b8ff" stroke-width="9" opacity="0.55" filter="url(#bl3)"/>
<g filter="url(#bl1_5)"><line x1="138.9" y1="269.9" x2="171.7" y2="250.9" stroke="#f4f4ff" stroke-width="3.2"/><line x1="123.3" y1="260.9" x2="123.3" y2="223.0" stroke="#f4f4ff" stroke-width="3.2"/><line x1="107.7" y1="269.9" x2="74.9" y2="250.9" stroke="#f4f4ff" stroke-width="3.2"/><line x1="107.7" y1="287.9" x2="74.9" y2="306.8" stroke="#f4f4ff" stroke-width="3.2"/><line x1="123.3" y1="296.9" x2="123.3" y2="334.8" stroke="#f4f4ff" stroke-width="3.2"/><line x1="138.9" y1="287.9" x2="171.7" y2="306.9" stroke="#f4f4ff" stroke-width="3.2"/></g>
<g filter="url(#bl1)"><ellipse cx="167.4" cy="253.4" rx="5.5" ry="4" transform="rotate(-30 167.4 253.4)" fill="#ff4656"/><ellipse cx="123.3" cy="228.0" rx="5.5" ry="4" transform="rotate(-90 123.3 228.0)" fill="#ff4656"/><ellipse cx="79.2" cy="253.4" rx="5.5" ry="4" transform="rotate(-150 79.2 253.4)" fill="#ff4656"/><ellipse cx="79.2" cy="304.3" rx="5.5" ry="4" transform="rotate(-210 79.2 304.3)" fill="#ff4656"/><ellipse cx="123.3" cy="329.8" rx="5.5" ry="4" transform="rotate(-270 123.3 329.8)" fill="#ff4656"/><ellipse cx="167.4" cy="304.4" rx="5.5" ry="4" transform="rotate(-330 167.4 304.4)" fill="#ff4656"/></g>
<g filter="url(#bl1)"><line x1="123.3" y1="277.4" x2="137.8" y2="269.0" stroke="#ffffff" stroke-width="11.5" stroke-linecap="round"/><line x1="123.3" y1="277.4" x2="123.3" y2="260.6" stroke="#ffffff" stroke-width="11.5" stroke-linecap="round"/><line x1="123.3" y1="277.4" x2="108.8" y2="269.0" stroke="#ffffff" stroke-width="11.5" stroke-linecap="round"/><line x1="123.3" y1="277.4" x2="108.8" y2="285.8" stroke="#ffffff" stroke-width="11.5" stroke-linecap="round"/><line x1="123.3" y1="277.4" x2="123.3" y2="294.2" stroke="#ffffff" stroke-width="11.5" stroke-linecap="round"/><line x1="123.3" y1="277.4" x2="137.8" y2="285.8" stroke="#ffffff" stroke-width="11.5" stroke-linecap="round"/></g>
<circle cx="122.8" cy="277.4" r="14" fill="#f8b0b4" filter="url(#bl1)"/>
<g filter="url(#bl1)"><line x1="123.3" y1="277.4" x2="137.8" y2="269.0" stroke="#f8b0b4" stroke-width="8.5" stroke-linecap="round"/><line x1="123.3" y1="277.4" x2="123.3" y2="260.6" stroke="#f8b0b4" stroke-width="8.5" stroke-linecap="round"/><line x1="123.3" y1="277.4" x2="108.8" y2="269.0" stroke="#f8b0b4" stroke-width="8.5" stroke-linecap="round"/><line x1="123.3" y1="277.4" x2="108.8" y2="285.8" stroke="#f8b0b4" stroke-width="8.5" stroke-linecap="round"/><line x1="123.3" y1="277.4" x2="123.3" y2="294.2" stroke="#f8b0b4" stroke-width="8.5" stroke-linecap="round"/><line x1="123.3" y1="277.4" x2="137.8" y2="285.8" stroke="#f8b0b4" stroke-width="8.5" stroke-linecap="round"/></g>
<circle cx="122.8" cy="277.4" r="10.5" fill="#f21818" filter="url(#bl1)"/>
<circle cx="122.8" cy="277.4" r="7.6" fill="#820000" filter="url(#bl1)"/>
</g>
<path d="M126.1,289.5V281.1h4.6" stroke="#f2d400" stroke-width="1.5" fill="none"/>
<g clip-path="url(#hc1)">
<polygon points="377.2,278.9 345.8,222.8 280.2,222.8 248.8,278.9 280.2,335.0 345.8,335.0" fill="#1616f6"/>
<g filter="url(#bl4)" opacity="0.75"><circle cx="352.0" cy="256.4" r="9" fill="#0000c4"/><circle cx="325.0" cy="258.1" r="5" fill="#0000c4"/><circle cx="313.0" cy="233.9" r="9" fill="#0000c4"/><circle cx="301.0" cy="258.1" r="5" fill="#0000c4"/><circle cx="274.0" cy="256.4" r="9" fill="#0000c4"/><circle cx="289.0" cy="278.9" r="5" fill="#0000c4"/><circle cx="274.0" cy="301.4" r="9" fill="#0000c4"/><circle cx="301.0" cy="299.6" r="5" fill="#0000c4"/><circle cx="313.0" cy="323.9" r="9" fill="#0000c4"/><circle cx="325.0" cy="299.6" r="5" fill="#0000c4"/><circle cx="352.0" cy="301.4" r="9" fill="#0000c4"/><circle cx="337.0" cy="278.9" r="5" fill="#0000c4"/></g>
<g filter="url(#bl1_5)"><polygon points="313.0,257.9 306.8,268.0 294.8,268.4 300.5,278.9 294.8,289.4 306.8,289.7 313.0,299.9 319.2,289.7 331.2,289.4 325.5,278.9 331.2,268.4 319.2,268.0" fill="#3a3aff"/><circle cx="313.0" cy="278.85" r="10" fill="#4848ff"/><polygon points="335.0,278.9 356.5,285.7 360.0,278.9 356.5,272.0" fill="#3c3cff"/><ellipse cx="347.0" cy="278.9" rx="6.5" ry="3.6" transform="rotate(0 347.0 278.9)" fill="#7070ff"/><circle cx="372.2" cy="278.9" r="5" fill="#4a4aff"/><polygon points="324.0,259.8 340.7,244.7 336.5,238.1 328.8,237.8" fill="#3c3cff"/><ellipse cx="330.0" cy="249.4" rx="6.5" ry="3.6" transform="rotate(-60 330.0 249.4)" fill="#7070ff"/><circle cx="342.6" cy="227.6" r="5" fill="#4a4aff"/><polygon points="302.0,259.8 297.2,237.8 289.5,238.1 285.3,244.7" fill="#3c3cff"/><ellipse cx="296.0" cy="249.4" rx="6.5" ry="3.6" transform="rotate(-120 296.0 249.4)" fill="#7070ff"/><circle cx="283.4" cy="227.6" r="5" fill="#4a4aff"/><polygon points="291.0,278.9 269.5,272.0 266.0,278.9 269.5,285.7" fill="#3c3cff"/><ellipse cx="279.0" cy="278.9" rx="6.5" ry="3.6" transform="rotate(-180 279.0 278.9)" fill="#7070ff"/><circle cx="253.8" cy="278.9" r="5" fill="#4a4aff"/><polygon points="302.0,297.9 285.3,313.0 289.5,319.6 297.2,319.9" fill="#3c3cff"/><ellipse cx="296.0" cy="308.3" rx="6.5" ry="3.6" transform="rotate(-240 296.0 308.3)" fill="#7070ff"/><circle cx="283.4" cy="330.1" r="5" fill="#4a4aff"/><polygon points="324.0,297.9 328.8,319.9 336.5,319.6 340.7,313.0" fill="#3c3cff"/><ellipse cx="330.0" cy="308.3" rx="6.5" ry="3.6" transform="rotate(-300 330.0 308.3)" fill="#7070ff"/><circle cx="342.6" cy="330.1" r="5" fill="#4a4aff"/><circle cx="326.6" cy="271.0" r="3.8" fill="#7474ff"/><circle cx="358.1" cy="252.8" r="4.5" fill="#6464ff"/><circle cx="313.0" cy="263.2" r="3.8" fill="#7474ff"/><circle cx="313.0" cy="226.8" r="4.5" fill="#6464ff"/><circle cx="299.4" cy="271.0" r="3.8" fill="#7474ff"/><circle cx="267.9" cy="252.8" r="4.5" fill="#6464ff"/><circle cx="299.4" cy="286.7" r="3.8" fill="#7474ff"/><circle cx="267.9" cy="304.9" r="4.5" fill="#6464ff"/><circle cx="313.0" cy="294.6" r="3.8" fill="#7474ff"/><circle cx="313.0" cy="331.0" r="4.5" fill="#6464ff"/><circle cx="326.6" cy="286.7" r="3.8" fill="#7474ff"/><circle cx="358.1" cy="304.9" r="4.5" fill="#6464ff"/></g>
<circle cx="312.5" cy="278.35" r="5.5" fill="#d4d4ff" filter="url(#bl1)"/>
<circle cx="313.0" cy="278.85" r="55" fill="none" stroke="#4040ff" stroke-width="2.5" filter="url(#bl1_5)" opacity="0.6"/>
</g>
<g clip-path="url(#hc2)">
<polygon points="564.9,278.3 534.5,222.7 469.3,222.7 438.9,278.3 469.3,333.9 534.5,333.9" fill="#1414f4"/>
<g filter="url(#bl4)" opacity="0.7"><circle cx="534.8" cy="259.3" r="11" fill="#0000a8"/><circle cx="501.9" cy="240.3" r="11" fill="#0000a8"/><circle cx="469.0" cy="259.3" r="11" fill="#0000a8"/><circle cx="469.0" cy="297.3" r="11" fill="#0000a8"/><circle cx="501.9" cy="316.3" r="11" fill="#0000a8"/><circle cx="534.8" cy="297.3" r="11" fill="#0000a8"/></g>
<g filter="url(#bl1_5)" opacity="0.8"><circle cx="536.1" cy="258.6" r="19" fill="none" stroke="#4e4eff" stroke-width="3" opacity="0.45"/><path d="M531.2,240.2A19,19 0 0 0 549.5,272.0" fill="none" stroke="#5252ff" stroke-width="3.4"/><circle cx="501.9" cy="238.8" r="19" fill="none" stroke="#4e4eff" stroke-width="3" opacity="0.45"/><path d="M483.5,233.9A19,19 0 0 0 520.3,233.9" fill="none" stroke="#5252ff" stroke-width="3.4"/><circle cx="467.7" cy="258.6" r="19" fill="none" stroke="#4e4eff" stroke-width="3" opacity="0.45"/><path d="M454.3,272.0A19,19 0 0 0 472.6,240.2" fill="none" stroke="#5252ff" stroke-width="3.4"/><circle cx="467.7" cy="298.1" r="19" fill="none" stroke="#4e4eff" stroke-width="3" opacity="0.45"/><path d="M472.6,316.4A19,19 0 0 0 454.3,284.6" fill="none" stroke="#5252ff" stroke-width="3.4"/><circle cx="501.9" cy="317.8" r="19" fill="none" stroke="#4e4eff" stroke-width="3" opacity="0.45"/><path d="M520.3,322.7A19,19 0 0 0 483.5,322.7" fill="none" stroke="#5252ff" stroke-width="3.4"/><circle cx="536.1" cy="298.1" r="19" fill="none" stroke="#4e4eff" stroke-width="3" opacity="0.45"/><path d="M549.5,284.6A19,19 0 0 0 531.2,316.4" fill="none" stroke="#5252ff" stroke-width="3.4"/><circle cx="557.9" cy="278.3" r="3.5" fill="#6464ff"/><circle cx="529.9" cy="229.8" r="3.5" fill="#6464ff"/><circle cx="473.9" cy="229.8" r="3.5" fill="#6464ff"/><circle cx="445.9" cy="278.3" r="3.5" fill="#6464ff"/><circle cx="473.9" cy="326.8" r="3.5" fill="#6464ff"/><circle cx="529.9" cy="326.8" r="3.5" fill="#6464ff"/><circle cx="554.7" cy="266.1" r="3.2" fill="#6a6aff"/><circle cx="538.8" cy="238.7" r="3.2" fill="#6a6aff"/><circle cx="517.7" cy="226.5" r="3.2" fill="#6a6aff"/><circle cx="486.1" cy="226.5" r="3.2" fill="#6a6aff"/><circle cx="465.0" cy="238.7" r="3.2" fill="#6a6aff"/><circle cx="449.1" cy="266.1" r="3.2" fill="#6a6aff"/><circle cx="449.1" cy="290.5" r="3.2" fill="#6a6aff"/><circle cx="465.0" cy="317.9" r="3.2" fill="#6a6aff"/><circle cx="486.1" cy="330.1" r="3.2" fill="#6a6aff"/><circle cx="517.7" cy="330.1" r="3.2" fill="#6a6aff"/><circle cx="538.8" cy="317.9" r="3.2" fill="#6a6aff"/><circle cx="554.7" cy="290.5" r="3.2" fill="#6a6aff"/></g>
<circle cx="501.4" cy="278.3" r="7" fill="#3030ff" filter="url(#bl2)"/>
<circle cx="501.4" cy="278.3" r="3" fill="#c4c4ff" filter="url(#bl1)"/>
</g>
<text transform="translate(510.2,290.1) scale(0.94,1)" font-size="13.52" text-anchor="middle" style="fill:#ffd200">A</text>
<polygon points="188.0,278.9 156.1,223.0 90.5,223.0 58.6,278.9 90.5,334.8 156.1,334.8" fill="none" stroke="#000" stroke-width="2.6" stroke-linejoin="miter"/>
<polygon points="377.2,278.9 345.8,222.8 280.2,222.8 248.8,278.9 280.2,335.0 345.8,335.0" fill="none" stroke="#000" stroke-width="2.6" stroke-linejoin="miter"/>
<polygon points="564.9,278.3 534.5,222.7 469.3,222.7 438.9,278.3 469.3,333.9 534.5,333.9" fill="none" stroke="#000" stroke-width="2.6" stroke-linejoin="miter"/>
<text transform="translate(-1.1,224.0) scale(0.94,1)" font-size="13.00" text-anchor="start" >(c)</text>
<text x="123.0" y="214.6" font-size="13" text-anchor="middle">q<tspan font-size="9" dy="3">z</tspan><tspan dy="-3">=0</tspan></text>
<text x="313.0" y="214.6" font-size="13" text-anchor="middle">q<tspan font-size="9" dy="3">z</tspan><tspan dy="-3">=1/3</tspan></text>
<text x="502.0" y="214.6" font-size="13" text-anchor="middle">q<tspan font-size="9" dy="3">z</tspan><tspan dy="-3">=1/2</tspan></text>
<text transform="translate(122.0,348.5) scale(0.94,1)" font-size="13.00" text-anchor="middle" >M</text>
<text transform="translate(156.0,348.5) scale(0.94,1)" font-size="13.00" text-anchor="middle" >K</text>
<text transform="translate(504.0,348.0) scale(0.94,1)" font-size="13.00" text-anchor="middle" >L</text>
<text transform="translate(534.5,348.0) scale(0.94,1)" font-size="13.00" text-anchor="middle" >H</text>
<linearGradient id="cbg" x1="0" y1="0" x2="0" y2="1"><stop offset="0" stop-color="#6a1418"/><stop offset="0.25" stop-color="#e8222a"/><stop offset="0.44" stop-color="#f6a8ac"/><stop offset="0.53" stop-color="#ffffff"/><stop offset="0.63" stop-color="#adadd6"/><stop offset="0.78" stop-color="#2c4c9c"/><stop offset="1" stop-color="#1c1a50"/></linearGradient>
<rect x="623.2" y="224.8" width="21.8" height="106.6" fill="url(#cbg)"/>
<text transform="translate(620.0,227.5) scale(0.94,1)" font-size="13.52" text-anchor="end" >max</text>
<text transform="translate(620.0,336.5) scale(0.94,1)" font-size="13.52" text-anchor="end" >0</text>
<clipPath id="clipD"><rect x="51.8" y="369.9" width="325.5" height="164.30000000000007"/></clipPath>
<clipPath id="clipS"><rect x="385.3" y="369.9" width="27.69999999999999" height="164.30000000000007"/></clipPath>
<line x1="51.8" y1="504.3" x2="377.3" y2="504.3" stroke="#222" stroke-width="1"/>
<line x1="385.3" y1="504.3" x2="413.0" y2="504.3" stroke="#222" stroke-width="1"/>
<g clip-path="url(#clipD)" fill="none" stroke="#1574be" stroke-width="1.3"><path d="M51.8,389.2C69.9,389.2 87.9,391.3 106.0,391.3C116.5,391.3 127.1,394.9 137.6,394.9C158.6,394.9 179.6,389.2 200.6,389.2M51.8,390.7C59.0,390.7 66.3,393.6 73.5,395.2C84.3,397.6 95.2,402.6 106.0,402.6C116.5,402.6 127.1,405.6 137.6,405.6C158.6,405.6 179.6,402.0 200.6,402.0M51.8,402.6C69.9,402.6 87.9,404.4 106.0,404.4C116.5,404.4 127.1,407.4 137.6,407.4C158.6,407.4 179.6,401.1 200.6,401.1M51.8,404.7C69.9,404.7 87.9,408.0 106.0,408.0C116.5,408.0 127.1,409.2 137.6,409.2C158.6,409.2 179.6,404.1 200.6,404.1M51.8,406.8C69.9,406.8 87.9,411.0 106.0,411.0C116.5,411.0 127.1,408.0 137.6,408.0C158.6,408.0 179.6,406.8 200.6,406.8M51.8,409.8C69.9,409.8 87.9,413.1 106.0,413.1C116.5,413.1 127.1,411.6 137.6,411.6C158.6,411.6 179.6,409.8 200.6,409.8M51.8,412.8C69.9,412.8 87.9,415.8 106.0,415.8C116.5,415.8 127.1,414.6 137.6,414.6C158.6,414.6 179.6,412.8 200.6,412.8M51.8,415.8C69.9,415.8 87.9,420.0 106.0,420.0C116.5,420.0 127.1,416.4 137.6,416.4C158.6,416.4 179.6,415.8 200.6,415.8M51.8,418.8C69.9,418.8 87.9,423.6 106.0,423.6C116.5,423.6 127.1,421.2 137.6,421.2C158.6,421.2 179.6,418.8 200.6,418.8M51.8,424.2C69.9,424.2 87.9,412.8 106.0,412.8C116.5,412.8 127.1,408.6 137.6,408.6C158.6,408.6 179.6,423.0 200.6,423.0M51.8,433.1C69.9,433.1 87.9,426.6 106.0,426.6C116.5,426.6 127.1,422.4 137.6,422.4C158.6,422.4 179.6,432.5 200.6,432.5M51.8,436.7C69.9,436.7 87.9,434.3 106.0,434.3C116.5,434.3 127.1,433.7 137.6,433.7C158.6,433.7 179.6,436.7 200.6,436.7M51.8,439.1C69.9,439.1 87.9,430.7 106.0,430.7C116.5,430.7 127.1,437.9 137.6,437.9C158.6,437.9 179.6,439.7 200.6,439.7M51.8,445.1C69.9,445.1 87.9,448.7 106.0,448.7C116.5,448.7 127.1,451.1 137.6,451.1C158.6,451.1 179.6,445.1 200.6,445.1M51.8,449.9C69.9,449.9 87.9,447.5 106.0,447.5C116.5,447.5 127.1,452.9 137.6,452.9C158.6,452.9 179.6,449.9 200.6,449.9M51.8,452.9C69.9,452.9 87.9,452.3 106.0,452.3C116.5,452.3 127.1,454.7 137.6,454.7C158.6,454.7 179.6,452.3 200.6,452.3M51.8,456.8C69.9,456.8 87.9,455.9 106.0,455.9C116.5,455.9 127.1,457.7 137.6,457.7C158.6,457.7 179.6,456.5 200.6,456.5M51.8,460.6C69.9,460.6 87.9,458.9 106.0,458.9C116.5,458.9 127.1,460.0 137.6,460.0C158.6,460.0 179.6,460.6 200.6,460.6M51.8,465.1C69.9,465.1 87.9,461.2 106.0,461.2C116.5,461.2 127.1,458.3 137.6,458.3C158.6,458.3 179.6,464.2 200.6,464.2M51.8,467.2C69.9,467.2 87.9,464.2 106.0,464.2C116.5,464.2 127.1,464.8 137.6,464.8C158.6,464.8 179.6,467.2 200.6,467.2M51.8,470.8C69.9,470.8 87.9,466.6 106.0,466.6C116.5,466.6 127.1,467.2 137.6,467.2C158.6,467.2 179.6,470.8 200.6,470.8M51.8,473.2C69.9,473.2 87.9,469.0 106.0,469.0C116.5,469.0 127.1,469.6 137.6,469.6C158.6,469.6 179.6,472.6 200.6,472.6M51.8,396.7C69.9,396.7 87.9,405.6 106.0,405.6C116.5,405.6 127.1,408.0 137.6,408.0C158.6,408.0 179.6,397.9 200.6,397.9M51.8,411.6C69.9,411.6 87.9,403.8 106.0,403.8C116.5,403.8 127.1,406.2 137.6,406.2C158.6,406.2 179.6,411.6 200.6,411.6M51.8,417.6C69.9,417.6 87.9,409.2 106.0,409.2C116.5,409.2 127.1,406.8 137.6,406.8C158.6,406.8 179.6,417.0 200.6,417.0M51.8,421.8C69.9,421.8 87.9,415.2 106.0,415.2C116.5,415.2 127.1,412.8 137.6,412.8C158.6,412.8 179.6,421.2 200.6,421.2M51.8,428.4C69.9,428.4 87.9,422.4 106.0,422.4C116.5,422.4 127.1,418.8 137.6,418.8C158.6,418.8 179.6,429.0 200.6,429.0M51.8,451.1C69.9,451.1 87.9,458.3 106.0,458.3C116.5,458.3 127.1,454.7 137.6,454.7C158.6,454.7 179.6,451.7 200.6,451.7M51.8,454.7C69.9,454.7 87.9,449.9 106.0,449.9C116.5,449.9 127.1,448.1 137.6,448.1C158.6,448.1 179.6,455.3 200.6,455.3M51.8,462.4C69.9,462.4 87.9,454.1 106.0,454.1C116.5,454.1 127.1,451.1 137.6,451.1C158.6,451.1 179.6,461.8 200.6,461.8M51.8,504.3C59.9,504.3 68.1,481.6 76.2,477.4C86.1,472.3 96.1,476.5 106.0,476.5C116.5,476.5 127.1,475.9 137.6,475.9C149.2,475.9 160.7,473.7 172.2,478.9C181.7,483.1 191.2,504.3 200.6,504.3M51.8,504.3C60.8,504.3 69.9,484.1 78.9,479.8C87.9,475.5 97.0,478.6 106.0,478.6C116.5,478.6 127.1,478.0 137.6,478.0C148.1,478.0 158.6,477.2 169.1,481.6C179.6,486.0 190.1,504.3 200.6,504.3M51.8,504.3C57.2,504.3 62.6,475.8 68.1,472.0C80.7,463.2 93.4,466.6 106.0,466.6C116.5,466.6 127.1,465.4 137.6,465.4C152.3,465.4 167.0,463.8 181.7,472.9C188.0,476.8 194.3,504.3 200.6,504.3M200.6,389.2C209.7,389.2 218.9,396.7 228.0,396.7C246.4,396.7 264.8,398.8 283.2,398.8C293.6,398.8 303.9,402.6 314.3,402.6C335.3,402.6 356.3,396.7 377.3,396.7M200.6,401.1C209.7,401.1 218.9,398.5 228.0,398.5C246.4,398.5 264.8,400.8 283.2,400.8C293.6,400.8 303.9,403.8 314.3,403.8C335.3,403.8 356.3,398.5 377.3,398.5M200.6,404.1C209.7,404.1 218.9,400.8 228.0,400.8C246.4,400.8 264.8,403.2 283.2,403.2C293.6,403.2 303.9,405.6 314.3,405.6C335.3,405.6 356.3,400.2 377.3,400.2M200.6,406.8C209.7,406.8 218.9,403.2 228.0,403.2C246.4,403.2 264.8,405.0 283.2,405.0C293.6,405.0 303.9,407.4 314.3,407.4C335.3,407.4 356.3,404.4 377.3,404.4M200.6,409.8C209.7,409.8 218.9,410.4 228.0,410.4C246.4,410.4 264.8,411.6 283.2,411.6C293.6,411.6 303.9,411.9 314.3,411.9C335.3,411.9 356.3,406.8 377.3,406.8M200.6,412.8C209.7,412.8 218.9,412.2 228.0,412.2C246.4,412.2 264.8,414.0 283.2,414.0C293.6,414.0 303.9,414.0 314.3,414.0C335.3,414.0 356.3,410.4 377.3,410.4M200.6,415.8C209.7,415.8 218.9,414.6 228.0,414.6C246.4,414.6 264.8,417.0 283.2,417.0C293.6,417.0 303.9,415.8 314.3,415.8C335.3,415.8 356.3,412.8 377.3,412.8M200.6,418.8C209.7,418.8 218.9,417.0 228.0,417.0C246.4,417.0 264.8,419.4 283.2,419.4C293.6,419.4 303.9,416.7 314.3,416.7C335.3,416.7 356.3,416.4 377.3,416.4M200.6,423.0C209.7,423.0 218.9,425.4 228.0,425.4C246.4,425.4 264.8,421.8 283.2,421.8C293.6,421.8 303.9,422.4 314.3,422.4C335.3,422.4 356.3,419.4 377.3,419.4M200.6,432.5C209.7,432.5 218.9,431.9 228.0,431.9C246.4,431.9 264.8,430.4 283.2,430.4C293.6,430.4 303.9,430.7 314.3,430.7C335.3,430.7 356.3,431.3 377.3,431.3M200.6,436.7C209.7,436.7 218.9,435.2 228.0,435.2C246.4,435.2 264.8,433.7 283.2,433.7C293.6,433.7 303.9,433.1 314.3,433.1C335.3,433.1 356.3,434.3 377.3,434.3M200.6,429.0C209.7,429.0 218.9,427.8 228.0,427.8C246.4,427.8 264.8,426.0 283.2,426.0C293.6,426.0 303.9,410.4 314.3,410.4C335.3,410.4 356.3,423.6 377.3,423.6M200.6,397.9C209.7,397.9 218.9,401.4 228.0,401.4C246.4,401.4 264.8,405.0 283.2,405.0C293.6,405.0 303.9,398.5 314.3,398.5C335.3,398.5 356.3,401.4 377.3,401.4M200.6,411.6C209.7,411.6 218.9,407.4 228.0,407.4C246.4,407.4 264.8,409.8 283.2,409.8C293.6,409.8 303.9,405.6 314.3,405.6C335.3,405.6 356.3,409.8 377.3,409.8M200.6,439.7C209.7,439.7 218.9,446.0 228.0,446.0C246.4,446.0 264.8,443.0 283.2,443.0C293.6,443.0 303.9,446.3 314.3,446.3C335.3,446.3 356.3,449.3 377.3,449.3M200.6,445.1C209.7,445.1 218.9,448.1 228.0,448.1C246.4,448.1 264.8,445.1 283.2,445.1C293.6,445.1 303.9,448.1 314.3,448.1C335.3,448.1 356.3,451.7 377.3,451.7M200.6,449.9C209.7,449.9 218.9,450.5 228.0,450.5C246.4,450.5 264.8,448.1 283.2,448.1C293.6,448.1 303.9,449.9 314.3,449.9C335.3,449.9 356.3,454.1 377.3,454.1M200.6,452.3C209.7,452.3 218.9,454.1 228.0,454.1C246.4,454.1 264.8,450.5 283.2,450.5C293.6,450.5 303.9,455.6 314.3,455.6C335.3,455.6 356.3,456.5 377.3,456.5M200.6,456.5C209.7,456.5 218.9,457.4 228.0,457.4C246.4,457.4 264.8,455.9 283.2,455.9C293.6,455.9 303.9,459.4 314.3,459.4C335.3,459.4 356.3,459.4 377.3,459.4M200.6,460.6C209.7,460.6 218.9,460.6 228.0,460.6C246.4,460.6 264.8,458.3 283.2,458.3C293.6,458.3 303.9,461.8 314.3,461.8C335.3,461.8 356.3,461.8 377.3,461.8M200.6,464.2C209.7,464.2 218.9,464.2 228.0,464.2C246.4,464.2 264.8,460.3 283.2,460.3C293.6,460.3 303.9,463.6 314.3,463.6C335.3,463.6 356.3,464.2 377.3,464.2M200.6,467.2C209.7,467.2 218.9,467.5 228.0,467.5C246.4,467.5 264.8,463.6 283.2,463.6C293.6,463.6 303.9,464.8 314.3,464.8C335.3,464.8 356.3,467.8 377.3,467.8M200.6,470.8C209.7,470.8 218.9,478.9 228.0,478.9C246.4,478.9 264.8,468.4 283.2,468.4C293.6,468.4 303.9,467.5 314.3,467.5C335.3,467.5 356.3,472.0 377.3,472.0M200.6,472.6C209.7,472.6 218.9,483.7 228.0,483.7C246.4,483.7 264.8,472.0 283.2,472.0C293.6,472.0 303.9,469.6 314.3,469.6C335.3,469.6 356.3,479.8 377.3,479.8M200.6,504.3C209.7,504.3 218.9,483.7 228.0,483.7C246.4,483.7 264.8,473.5 283.2,473.5C293.6,473.5 303.9,472.0 314.3,472.0C335.3,472.0 356.3,484.6 377.3,484.6M200.6,455.3C209.7,455.3 218.9,454.1 228.0,454.1C246.4,454.1 264.8,453.5 283.2,453.5C293.6,453.5 303.9,449.6 314.3,449.6C335.3,449.6 356.3,457.1 377.3,457.1M200.6,461.8C209.7,461.8 218.9,469.6 228.0,469.6C246.4,469.6 264.8,467.2 283.2,467.2C293.6,467.2 303.9,466.6 314.3,466.6C335.3,466.6 356.3,470.2 377.3,470.2M200.6,402.0C209.7,402.0 218.9,402.6 228.0,402.6C246.4,402.6 264.8,401.4 283.2,401.4C293.6,401.4 303.9,404.4 314.3,404.4C335.3,404.4 356.3,402.6 377.3,402.6M200.6,417.0C209.7,417.0 218.9,415.8 228.0,415.8C246.4,415.8 264.8,418.2 283.2,418.2C293.6,418.2 303.9,418.2 314.3,418.2C335.3,418.2 356.3,414.6 377.3,414.6M200.6,421.2C209.7,421.2 218.9,423.6 228.0,423.6C246.4,423.6 264.8,423.6 283.2,423.6C293.6,423.6 303.9,420.6 314.3,420.6C335.3,420.6 356.3,421.8 377.3,421.8M200.6,451.7C209.7,451.7 218.9,455.3 228.0,455.3C246.4,455.3 264.8,454.7 283.2,454.7C293.6,454.7 303.9,457.7 314.3,457.7C335.3,457.7 356.3,458.3 377.3,458.3M200.6,504.3C205.2,504.3 209.7,490.4 214.3,489.1C218.9,487.7 223.4,496.2 228.0,496.2C233.3,496.2 238.7,495.8 244.0,497.7C248.1,499.2 252.1,503.7 256.2,506.4C258.2,507.8 260.2,509.4 262.2,510.0C269.2,512.1 276.2,513.5 283.2,514.5C293.6,515.8 303.9,516.9 314.3,516.9C323.9,516.9 333.5,513.8 343.0,509.7C346.3,508.2 349.7,501.2 353.0,500.1C361.1,497.4 369.2,498.0 377.3,498.0"/></g>
<g clip-path="url(#clipS)" fill="none" stroke="#1574be" stroke-width="1.3"><path d="M385.3,395.5C389.1,395.5 392.9,400.9 396.6,402.0C399.2,402.8 401.7,401.1 404.2,401.1C407.1,401.1 410.1,397.9 413.0,397.9M385.3,403.8C391.6,403.8 397.9,402.6 404.2,402.6C407.1,402.6 410.1,400.8 413.0,400.8M385.3,406.8C391.6,406.8 397.9,408.6 404.2,408.6C407.1,408.6 410.1,403.2 413.0,403.2M385.3,411.6C391.6,411.6 397.9,410.4 404.2,410.4C407.1,410.4 410.1,410.4 413.0,410.4M385.3,414.0C391.6,414.0 397.9,412.8 404.2,412.8C407.1,412.8 410.1,414.6 413.0,414.6M385.3,418.8C391.6,418.8 397.9,417.6 404.2,417.6C407.1,417.6 410.1,415.8 413.0,415.8M385.3,424.8C391.6,424.8 397.9,424.8 404.2,424.8C407.1,424.8 410.1,420.0 413.0,420.0M385.3,431.3C391.6,431.3 397.9,431.9 404.2,431.9C407.1,431.9 410.1,430.7 413.0,430.7M385.3,434.3C391.6,434.3 397.9,433.1 404.2,433.1C407.1,433.1 410.1,434.3 413.0,434.3M385.3,445.7C391.6,445.7 397.9,448.1 404.2,448.1C407.1,448.1 410.1,449.9 413.0,449.9M385.3,449.3C391.6,449.3 397.9,451.1 404.2,451.1C407.1,451.1 410.1,452.3 413.0,452.3M385.3,452.3C391.6,452.3 397.9,454.7 404.2,454.7C407.1,454.7 410.1,455.3 413.0,455.3M385.3,457.1C391.6,457.1 397.9,464.2 404.2,464.2C407.1,464.2 410.1,464.8 413.0,464.8M385.3,461.2C391.6,461.2 397.9,464.8 404.2,464.8C407.1,464.8 410.1,466.6 413.0,466.6M385.3,466.6C391.6,466.6 397.9,466.6 404.2,466.6C407.1,466.6 410.1,468.4 413.0,468.4M385.3,471.4C391.6,471.4 397.9,469.6 404.2,469.6C407.1,469.6 410.1,472.0 413.0,472.0M385.3,476.2C387.8,476.2 390.3,483.0 392.9,486.4C396.6,491.4 400.4,501.3 404.2,501.3C407.1,501.3 410.1,516.3 413.0,516.3"/></g>
<rect x="51.8" y="369.9" width="325.5" height="164.30000000000007" fill="none" stroke="#111" stroke-width="1.5"/>
<rect x="385.3" y="369.9" width="27.69999999999999" height="164.30000000000007" fill="none" stroke="#111" stroke-width="1.5"/>
<path d="M51.8,504.3h10M413.0,504.3h-11M51.8,474.4h10M413.0,474.4h-11M51.8,444.5h10M413.0,444.5h-11M51.8,414.6h10M413.0,414.6h-11M51.8,384.7h10M413.0,384.7h-11M106.0,369.9v11M106.0,534.2v-11M137.6,369.9v11M137.6,534.2v-11M200.6,369.9v11M200.6,534.2v-11M228.0,369.9v11M228.0,534.2v-11M283.2,369.9v11M283.2,534.2v-11M314.3,369.9v11M314.3,534.2v-11M404.2,369.9v11M404.2,534.2v-11" stroke="#111" stroke-width="1.9" fill="none"/>
<circle cx="228.0" cy="454.1" r="3.1" fill="#edb120"/>
<circle cx="228.0" cy="467.5" r="3.1" fill="#edb120"/>
<circle cx="228.0" cy="483.7" r="3.1" fill="#edb120"/>
<circle cx="228.0" cy="492.6" r="3.1" fill="#a2142f"/>
<circle cx="314.3" cy="449.6" r="3.1" fill="#a2142f"/>
<circle cx="314.3" cy="455.6" r="3.1" fill="#77ac30"/>
<circle cx="314.3" cy="464.8" r="3.1" fill="#a2142f"/>
<circle cx="314.3" cy="467.5" r="3.1" fill="#77ac30"/>
<circle cx="404.2" cy="451.1" r="3.1" fill="#a2142f"/>
<circle cx="404.2" cy="455.3" r="3.1" fill="#7e2f8e"/>
<circle cx="404.2" cy="454.4" r="3.1" fill="#77ac30"/>
<circle cx="404.2" cy="465.4" r="3.1" fill="#a2142f"/>
<circle cx="404.2" cy="466.6" r="3.1" fill="#77ac30"/>
<text transform="translate(-1.1,370.5) scale(0.94,1)" font-size="13.00" text-anchor="start" >(d)</text>
<text transform="translate(46.5,389.3) scale(0.94,1)" font-size="13.52" text-anchor="end" >40</text>
<text transform="translate(46.5,419.2) scale(0.94,1)" font-size="13.52" text-anchor="end" >30</text>
<text transform="translate(46.5,449.1) scale(0.94,1)" font-size="13.52" text-anchor="end" >20</text>
<text transform="translate(46.5,479.0) scale(0.94,1)" font-size="13.52" text-anchor="end" >10</text>
<text transform="translate(46.5,508.9) scale(0.94,1)" font-size="13.52" text-anchor="end" >0</text>
<text transform="translate(46.5,538.8) scale(0.94,1)" font-size="13.52" text-anchor="end" >-10</text>
<text transform="translate(22.2,510) rotate(-90)" font-size="13.6" textLength="121" lengthAdjust="spacingAndGlyphs">Phonon Energy (meV)</text>
<text transform="translate(51.8,550.0) scale(0.94,1)" font-size="13.00" text-anchor="middle" >Γ</text>
<text transform="translate(106.0,550.0) scale(0.94,1)" font-size="13.00" text-anchor="middle" >M</text>
<text transform="translate(137.6,550.0) scale(0.94,1)" font-size="13.00" text-anchor="middle" >K</text>
<text transform="translate(200.6,550.0) scale(0.94,1)" font-size="13.00" text-anchor="middle" >Γ</text>
<text transform="translate(228.0,550.0) scale(0.94,1)" font-size="13.00" text-anchor="middle" >A</text>
<text transform="translate(283.2,550.0) scale(0.94,1)" font-size="13.00" text-anchor="middle" >L</text>
<text transform="translate(314.3,550.0) scale(0.94,1)" font-size="13.00" text-anchor="middle" >H</text>
<text transform="translate(377.3,550.0) scale(0.94,1)" font-size="13.00" text-anchor="middle" >A</text>
<text transform="translate(385.6,550.0) scale(0.94,1)" font-size="13.00" text-anchor="middle" >K</text>
<text x="397.5" y="550" font-size="12.5" font-weight="bold">q<tspan font-size="9" font-weight="normal" dy="3">s</tspan></text>
<text x="411.2" y="550" font-size="12.5">H/<tspan font-weight="bold">q</tspan><tspan font-size="8" dy="-5">*</tspan></text>
<line x1="604.3" y1="369.5" x2="604.3" y2="417.3" stroke="#aaa" stroke-width="1" stroke-dasharray="4,3"/>
<line x1="604.3" y1="429.2" x2="604.3" y2="475.7" stroke="#aaa" stroke-width="1" stroke-dasharray="4,3"/>
<line x1="604.3" y1="487.8" x2="604.3" y2="534.8" stroke="#aaa" stroke-width="1" stroke-dasharray="4,3"/>
<circle cx="526.0" cy="388.2" r="3.3" fill="#d95319"/><circle cx="530.5" cy="388.1" r="3.3" fill="#d95319"/><circle cx="535.1" cy="388.1" r="3.3" fill="#d95319"/><circle cx="539.6" cy="388.0" r="3.3" fill="#d95319"/><circle cx="544.2" cy="387.9" r="3.3" fill="#d95319"/><circle cx="548.7" cy="387.8" r="3.3" fill="#d95319"/><circle cx="553.3" cy="387.8" r="3.3" fill="#d95319"/><circle cx="557.8" cy="387.7" r="3.3" fill="#d95319"/><circle cx="562.4" cy="387.6" r="3.3" fill="#d95319"/><circle cx="566.9" cy="387.5" r="3.3" fill="#d95319"/><circle cx="571.5" cy="387.5" r="3.3" fill="#d95319"/><circle cx="576.0" cy="387.4" r="3.3" fill="#d95319"/><circle cx="580.6" cy="387.3" r="3.3" fill="#d95319"/><circle cx="585.1" cy="387.2" r="3.3" fill="#d95319"/><circle cx="589.6" cy="387.1" r="3.3" fill="#d95319"/><circle cx="594.2" cy="387.1" r="3.3" fill="#d95319"/><circle cx="598.7" cy="387.0" r="3.3" fill="#d95319"/><circle cx="603.3" cy="386.9" r="3.3" fill="#d95319"/><circle cx="607.8" cy="386.8" r="3.3" fill="#d95319"/><circle cx="612.4" cy="386.8" r="3.3" fill="#d95319"/><circle cx="616.9" cy="386.7" r="3.3" fill="#d95319"/><circle cx="621.5" cy="386.6" r="3.3" fill="#d95319"/><circle cx="626.0" cy="386.5" r="3.3" fill="#d95319"/><circle cx="630.6" cy="386.5" r="3.3" fill="#d95319"/><circle cx="635.1" cy="386.4" r="3.3" fill="#d95319"/><circle cx="639.7" cy="386.3" r="3.3" fill="#d95319"/><circle cx="644.2" cy="386.2" r="3.3" fill="#d95319"/>
<circle cx="526.0" cy="475.2" r="3.3" fill="#0072bd"/><circle cx="530.5" cy="474.6" r="3.3" fill="#0072bd"/><circle cx="535.1" cy="473.9" r="3.3" fill="#0072bd"/><circle cx="539.6" cy="471.8" r="3.3" fill="#0072bd"/><circle cx="544.2" cy="469.9" r="3.3" fill="#0072bd"/><circle cx="548.7" cy="467.3" r="3.3" fill="#0072bd"/><circle cx="553.3" cy="464.1" r="3.3" fill="#0072bd"/><circle cx="557.8" cy="460.7" r="3.3" fill="#0072bd"/><circle cx="562.4" cy="457.3" r="3.3" fill="#0072bd"/><circle cx="566.9" cy="453.6" r="3.3" fill="#0072bd"/><circle cx="571.5" cy="450.2" r="3.3" fill="#0072bd"/><circle cx="576.0" cy="447.1" r="3.3" fill="#0072bd"/><circle cx="580.6" cy="444.4" r="3.3" fill="#0072bd"/><circle cx="585.1" cy="442.3" r="3.3" fill="#0072bd"/><circle cx="589.6" cy="440.5" r="3.3" fill="#0072bd"/><circle cx="594.2" cy="439.2" r="3.3" fill="#0072bd"/><circle cx="598.7" cy="438.4" r="3.3" fill="#0072bd"/><circle cx="603.3" cy="437.6" r="3.3" fill="#0072bd"/><circle cx="607.8" cy="436.6" r="3.3" fill="#0072bd"/><circle cx="612.4" cy="436.3" r="3.3" fill="#0072bd"/><circle cx="616.9" cy="436.0" r="3.3" fill="#0072bd"/><circle cx="621.5" cy="436.3" r="3.3" fill="#0072bd"/><circle cx="626.0" cy="436.6" r="3.3" fill="#0072bd"/><circle cx="630.6" cy="437.1" r="3.3" fill="#0072bd"/><circle cx="635.1" cy="437.6" r="3.3" fill="#0072bd"/><circle cx="639.7" cy="437.9" r="3.3" fill="#0072bd"/><circle cx="644.2" cy="438.4" r="3.3" fill="#0072bd"/>
<circle cx="526.0" cy="534.2" r="3.3" fill="#7e2f8e"/><circle cx="530.5" cy="533.7" r="3.3" fill="#7e2f8e"/><circle cx="535.1" cy="532.8" r="3.3" fill="#7e2f8e"/><circle cx="539.6" cy="530.6" r="3.3" fill="#7e2f8e"/><circle cx="544.2" cy="528.7" r="3.3" fill="#7e2f8e"/><circle cx="548.7" cy="525.9" r="3.3" fill="#7e2f8e"/><circle cx="553.3" cy="522.5" r="3.3" fill="#7e2f8e"/><circle cx="557.8" cy="518.9" r="3.3" fill="#7e2f8e"/><circle cx="562.4" cy="515.3" r="3.3" fill="#7e2f8e"/><circle cx="566.9" cy="511.4" r="3.3" fill="#7e2f8e"/><circle cx="571.5" cy="507.7" r="3.3" fill="#7e2f8e"/><circle cx="576.0" cy="504.4" r="3.3" fill="#7e2f8e"/><circle cx="580.6" cy="501.6" r="3.3" fill="#7e2f8e"/><circle cx="585.1" cy="499.4" r="3.3" fill="#7e2f8e"/><circle cx="589.6" cy="497.4" r="3.3" fill="#7e2f8e"/><circle cx="594.2" cy="496.0" r="3.3" fill="#7e2f8e"/><circle cx="598.7" cy="495.2" r="3.3" fill="#7e2f8e"/><circle cx="603.3" cy="494.3" r="3.3" fill="#7e2f8e"/><circle cx="607.8" cy="493.2" r="3.3" fill="#7e2f8e"/><circle cx="612.4" cy="492.9" r="3.3" fill="#7e2f8e"/><circle cx="616.9" cy="492.7" r="3.3" fill="#7e2f8e"/><circle cx="621.5" cy="492.9" r="3.3" fill="#7e2f8e"/><circle cx="626.0" cy="493.2" r="3.3" fill="#7e2f8e"/><circle cx="630.6" cy="493.8" r="3.3" fill="#7e2f8e"/><circle cx="635.1" cy="494.3" r="3.3" fill="#7e2f8e"/><circle cx="639.7" cy="494.6" r="3.3" fill="#7e2f8e"/><circle cx="644.2" cy="495.2" r="3.3" fill="#7e2f8e"/>
<path d="M526.0,393.4h6M644.2,393.4h-6M604.3,369.5v5M604.3,417.3v-5M526.0,452.4h6M644.2,452.4h-6M604.3,429.2v5M604.3,475.7v-5M526.0,511.3h6M644.2,511.3h-6M604.3,487.8v5M604.3,534.8v-5" stroke="#111" stroke-width="1.3" fill="none"/>
<rect x="526.0" y="369.5" width="118.2" height="47.8" fill="none" stroke="#111" stroke-width="1.6"/>
<rect x="526.0" y="429.2" width="118.2" height="46.5" fill="none" stroke="#111" stroke-width="1.6"/>
<rect x="526.0" y="487.8" width="118.2" height="47.0" fill="none" stroke="#111" stroke-width="1.6"/>
<text transform="translate(448.0,372.0) scale(0.94,1)" font-size="13.00" text-anchor="start" >(e)</text>
<text transform="translate(586.5,366.0) scale(0.94,1)" font-size="13.52" text-anchor="middle" >T=0.1Ry</text>
<text transform="translate(522.5,374.1) scale(0.94,1)" font-size="13.52" text-anchor="end" >12</text>
<text transform="translate(522.5,398.0) scale(0.94,1)" font-size="13.52" text-anchor="end" >6</text>
<text transform="translate(522.5,421.9) scale(0.94,1)" font-size="13.52" text-anchor="end" >0</text>
<text transform="translate(522.5,433.8) scale(0.94,1)" font-size="13.52" text-anchor="end" >0.16</text>
<text transform="translate(522.5,457.1) scale(0.94,1)" font-size="13.52" text-anchor="end" >0.08</text>
<text transform="translate(522.5,480.3) scale(0.94,1)" font-size="13.52" text-anchor="end" >0</text>
<text transform="translate(522.5,492.4) scale(0.94,1)" font-size="13.52" text-anchor="end" >0.1</text>
<text transform="translate(522.5,515.9) scale(0.94,1)" font-size="13.52" text-anchor="end" >0.05</text>
<text transform="translate(522.5,539.4) scale(0.94,1)" font-size="13.52" text-anchor="end" >0</text>
<text transform="translate(489,398) rotate(-90)" font-size="14" text-anchor="middle">ω<tspan font-size="10" font-weight="bold" dy="3.5">q</tspan><tspan dy="-3.5">(meV)</tspan></text>
<text transform="translate(489,449) rotate(-90)" font-size="14" text-anchor="middle">λ<tspan font-size="10" font-weight="bold" dy="3.5">q</tspan></text>
<text transform="translate(489.5,510.5) rotate(-90)" font-size="13.5" text-anchor="middle">Π′′(meV)</text>
<text transform="translate(526.5,550.0) scale(0.94,1)" font-size="13.00" text-anchor="middle" >K</text>
<text x="598.5" y="550" font-size="12.5" font-weight="bold">q<tspan font-size="9" font-weight="normal" dy="3">s</tspan></text>
<text x="631" y="550" font-size="12.5">H/<tspan font-weight="bold">q</tspan><tspan font-size="8" dy="-5">*</tspan></text>
</svg></body></html>
